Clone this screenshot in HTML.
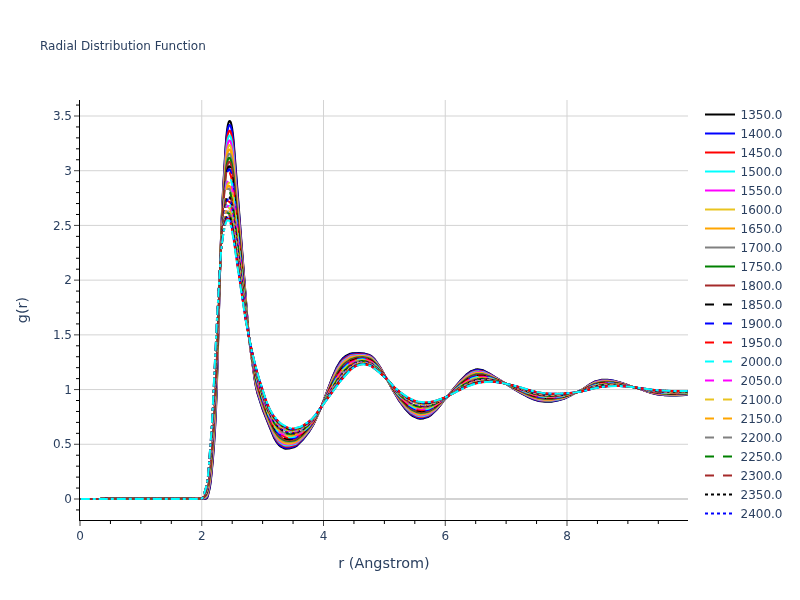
<!DOCTYPE html>
<html lang="en">
<head>
<meta charset="utf-8">
<title>Radial Distribution Function</title>
<style>
html,body{margin:0;padding:0;background:#fff;}
body{width:800px;height:600px;overflow:hidden;}
svg{display:block;will-change:transform;}
svg text{font-family:"DejaVu Sans","Liberation Sans",sans-serif;fill:#2a3f5f;font-size:12px;white-space:pre;}
.grid line{stroke:#d3d3d3;stroke-width:1;}
.ticks line{stroke:#444;stroke-width:1;}
.ticks line.mn{stroke:#000;}
.traces path{fill:none;stroke-width:2;stroke-linejoin:round;}
</style>
</head>
<body>
<svg width="800" height="600" viewBox="0 0 800 600">
<rect x="0" y="0" width="800" height="600" fill="#ffffff"/>
<g class="grid">
<line x1="201.75" x2="201.75" y1="100" y2="520"/>
<line x1="323.50" x2="323.50" y1="100" y2="520"/>
<line x1="445.25" x2="445.25" y1="100" y2="520"/>
<line x1="567.00" x2="567.00" y1="100" y2="520"/>
<line x1="80" x2="688" y1="444.28" y2="444.28"/>
<line x1="80" x2="688" y1="389.57" y2="389.57"/>
<line x1="80" x2="688" y1="334.86" y2="334.86"/>
<line x1="80" x2="688" y1="280.14" y2="280.14"/>
<line x1="80" x2="688" y1="225.42" y2="225.42"/>
<line x1="80" x2="688" y1="170.71" y2="170.71"/>
<line x1="80" x2="688" y1="116.00" y2="116.00"/>
</g>
<line x1="80" x2="688" y1="499.00" y2="499.00" stroke="#d3d3d3" stroke-width="2"/>
<clipPath id="plotclip"><rect x="80" y="100" width="608" height="420"/></clipPath>
<g class="traces" clip-path="url(#plotclip)">
<path d="M80.80,499.00L87.05,499.00L93.30,499.00L99.55,499.00L105.80,498.27L112.05,498.25L118.30,498.25L124.55,498.25L130.55,498.25L136.80,498.25L143.05,498.25L149.30,498.25L155.55,498.25L161.80,498.25L168.05,498.25L174.30,498.25L180.55,498.25L186.80,498.25L193.05,498.25L199.30,498.25L202.05,498.26L205.05,498.75L205.80,498.71L206.05,498.65L206.55,498.34L206.80,498.12L207.05,497.80L207.30,497.36L207.80,496.03L209.55,489.06L210.05,486.47L210.80,481.18L212.80,461.00L214.30,441.39L215.30,424.79L216.05,408.64L217.30,372.60L220.80,244.08L221.80,215.94L223.05,189.58L225.55,147.10L226.30,137.14L227.05,130.12L227.55,126.76L228.05,124.31L228.55,122.57L228.80,121.96L229.05,121.50L229.30,121.18L229.55,121.01L229.80,121.00L230.05,121.14L230.30,121.42L230.55,121.85L231.05,123.21L231.55,125.25L232.05,127.93L232.80,133.20L233.55,140.05L236.55,178.37L242.80,259.19L248.30,329.87L250.05,346.56L254.55,378.99L256.05,387.48L257.55,393.80L262.80,409.98L269.05,425.71L274.30,438.24L276.80,442.46L278.80,444.99L280.30,446.28L283.80,448.19L285.55,448.70L289.05,448.58L294.80,446.98L296.30,446.18L302.55,440.08L308.80,432.15L313.80,423.93L319.80,410.58L326.05,394.08L332.30,377.45L336.80,367.25L340.05,361.72L342.80,358.33L345.30,356.26L350.30,353.71L352.30,353.29L358.55,353.11L364.80,353.62L369.55,355.02L371.05,355.82L374.55,359.08L379.80,366.47L386.05,377.72L392.30,389.27L398.55,399.83L404.80,408.52L410.55,414.47L412.80,416.08L417.80,418.33L420.05,418.77L423.55,418.41L428.55,416.74L431.30,414.89L436.55,409.89L441.05,404.30L444.05,400.05L447.80,396.42L454.05,388.20L460.30,380.77L466.30,374.58L471.05,371.15L475.30,369.58L477.55,369.31L483.30,370.35L489.55,373.57L495.80,377.50L502.05,381.34L508.30,385.35L514.55,389.46L520.80,393.11L527.05,396.47L533.30,399.30L538.80,401.06L545.05,401.67L551.30,401.67L557.55,400.59L563.80,398.79L570.05,395.85L576.30,392.36L582.55,389.42L588.80,384.94L595.05,381.42L601.30,379.87L607.55,379.75L613.80,380.63L620.05,382.42L626.30,384.55L632.55,386.87L638.80,388.55L645.05,390.82L651.30,392.97L657.55,394.45L663.80,395.13L670.05,395.47L676.30,395.43L682.55,395.16L687.55,394.68" stroke="#000000"/>
<path d="M80.80,499.00L87.05,499.00L93.30,499.00L99.55,499.00L105.80,498.30L112.05,498.28L118.30,498.28L124.55,498.28L130.55,498.28L136.80,498.28L143.05,498.28L149.30,498.28L155.55,498.28L161.80,498.28L168.05,498.28L174.30,498.28L180.55,498.28L186.80,498.28L193.05,498.28L199.30,498.28L202.05,498.26L204.80,498.45L205.80,498.29L206.05,498.19L206.55,497.80L207.05,497.18L207.30,496.69L207.80,495.28L209.55,487.77L210.30,483.38L211.30,475.01L213.05,455.83L214.55,434.78L215.55,416.90L216.55,392.73L219.05,308.32L220.80,244.54L221.80,217.10L223.05,191.44L225.55,150.16L226.30,140.52L227.05,133.74L227.55,130.49L228.05,128.14L228.55,126.48L228.80,125.89L229.05,125.46L229.30,125.18L229.55,125.03L229.80,125.03L230.05,125.20L230.30,125.50L230.55,125.95L231.05,127.33L231.55,129.38L232.30,133.65L233.05,139.32L233.80,146.77L236.30,178.88L242.55,257.70L248.30,330.05L250.05,346.42L254.55,378.33L256.05,386.71L257.55,392.99L263.05,409.87L269.30,425.61L274.30,437.37L276.80,441.54L278.80,444.06L280.30,445.35L283.80,447.28L285.55,447.81L289.05,447.76L294.80,446.23L296.30,445.45L302.55,439.51L308.80,431.73L313.80,423.65L320.05,409.89L326.30,393.70L332.55,377.42L337.05,367.53L340.30,362.16L343.05,358.88L346.05,356.55L350.55,354.28L356.80,353.61L363.05,353.83L367.55,354.70L370.30,355.79L372.05,357.01L375.30,360.31L380.55,367.96L386.80,379.12L393.05,390.42L399.30,400.62L405.55,408.86L410.80,414.05L416.30,417.12L419.05,417.97L421.55,418.08L427.80,416.47L429.80,415.46L435.55,410.57L440.80,404.43L444.05,399.96L447.80,396.41L454.05,388.39L460.30,381.13L466.30,375.08L471.05,371.71L475.30,370.14L477.55,369.87L483.30,370.82L489.55,373.89L495.80,377.69L502.05,381.41L508.30,385.31L514.55,389.31L520.80,392.88L527.05,396.19L533.30,398.98L539.05,400.75L545.30,401.35L551.55,401.33L557.80,400.26L564.05,398.48L570.30,395.59L576.55,392.24L582.55,389.49L588.80,385.13L595.05,381.69L601.30,380.16L607.55,380.02L613.80,380.85L620.05,382.56L626.30,384.63L632.55,386.88L638.80,388.53L645.05,390.73L651.30,392.83L657.55,394.28L663.80,394.95L670.05,395.29L676.30,395.25L682.55,394.99L687.55,394.53" stroke="#0000ff"/>
<path d="M80.80,499.00L87.05,499.00L93.30,499.00L99.55,499.00L105.80,498.34L112.05,498.32L118.30,498.32L124.55,498.32L130.55,498.32L136.80,498.32L143.05,498.32L149.30,498.32L155.55,498.32L161.80,498.32L168.05,498.32L174.30,498.32L180.55,498.32L186.80,498.32L193.05,498.32L199.30,498.32L204.05,498.21L205.55,497.81L206.05,497.54L206.55,497.05L207.05,496.32L207.55,495.07L208.30,492.18L209.80,484.56L210.55,479.33L211.80,467.39L213.55,445.96L215.05,422.37L216.05,401.64L217.55,358.88L220.80,245.17L221.80,218.72L223.05,194.04L225.55,154.46L226.30,145.26L227.05,138.81L227.55,135.73L228.05,133.51L228.55,131.95L228.80,131.41L229.05,131.02L229.30,130.76L229.55,130.65L229.80,130.69L230.05,130.88L230.30,131.21L230.55,131.68L231.05,133.10L231.55,135.16L232.30,139.40L233.05,145.00L233.80,152.30L236.30,183.54L242.55,260.20L248.30,330.31L250.30,348.18L254.55,377.41L256.05,385.64L257.55,391.86L263.55,410.11L269.80,425.83L274.30,436.16L277.05,440.61L279.05,443.01L282.30,445.27L284.80,446.37L286.80,446.70L291.55,446.16L295.30,444.98L297.30,443.71L303.55,437.63L309.80,429.75L314.55,421.87L320.80,407.98L327.05,392.22L333.30,376.49L337.55,367.67L340.55,362.94L343.30,359.76L346.80,357.14L350.55,355.19L356.80,354.32L363.05,354.44L367.55,355.30L370.30,356.37L372.05,357.58L375.30,360.83L380.55,368.30L386.80,379.11L393.05,390.16L399.30,400.08L405.55,408.11L410.80,413.16L416.30,416.19L419.30,417.07L422.30,417.08L428.05,415.55L430.30,414.35L435.80,409.75L441.05,403.78L444.05,399.83L447.80,396.40L454.05,388.65L460.30,381.64L466.30,375.77L471.05,372.49L475.30,370.94L477.80,370.65L483.55,371.55L489.80,374.48L496.05,378.09L502.30,381.62L508.55,385.43L514.80,389.25L521.05,392.70L527.30,395.91L533.55,398.61L539.05,400.26L545.30,400.88L551.55,400.88L557.80,399.88L564.05,398.19L570.30,395.43L576.55,392.25L582.80,389.45L589.05,385.25L595.30,381.97L601.55,380.52L607.80,380.40L614.05,381.20L620.30,382.84L626.55,384.82L632.80,386.98L639.05,388.56L645.30,390.70L651.55,392.71L657.80,394.08L664.05,394.71L670.30,395.04L676.55,395.00L682.80,394.74L687.55,394.33" stroke="#ff0000"/>
<path d="M80.80,499.00L87.05,499.00L93.30,499.00L99.55,499.00L105.80,498.38L112.05,498.36L118.30,498.36L124.55,498.36L130.55,498.36L136.80,498.36L143.05,498.36L149.30,498.36L155.55,498.36L161.80,498.36L168.05,498.36L174.30,498.36L180.55,498.36L186.80,498.36L193.05,498.36L199.30,498.35L203.30,498.20L205.05,497.61L205.80,497.18L206.30,496.72L206.80,496.04L207.30,494.98L207.80,493.31L209.55,484.44L210.30,479.42L211.30,470.49L213.05,449.96L214.80,423.30L215.80,403.87L217.05,371.41L220.80,245.72L221.80,220.11L223.05,196.26L225.55,158.14L226.30,149.33L226.80,144.96L227.30,141.57L227.80,139.07L228.30,137.29L228.55,136.64L228.80,136.13L229.05,135.78L229.30,135.55L229.55,135.47L229.80,135.53L230.05,135.74L230.30,136.10L230.55,136.59L231.05,138.05L231.55,140.12L232.30,144.34L233.05,149.87L233.80,157.04L236.55,190.18L242.80,265.40L248.30,330.53L250.30,347.97L254.55,376.62L256.30,385.88L260.55,400.65L266.80,417.48L273.05,432.47L275.05,436.50L278.05,440.79L279.55,442.35L283.30,444.69L285.55,445.49L289.05,445.61L294.55,444.38L296.30,443.56L302.55,438.03L308.80,430.63L313.55,423.38L319.80,410.34L326.05,395.02L332.30,379.58L337.30,369.04L340.55,363.90L343.30,360.72L349.30,356.58L351.30,355.70L357.55,354.88L363.80,355.03L368.55,356.15L370.55,357.01L372.80,358.73L376.05,362.17L382.30,371.46L388.55,382.13L394.80,392.81L401.05,402.00L407.30,409.25L411.55,412.97L416.80,415.59L419.55,416.30L423.05,416.19L428.30,414.74L431.05,413.17L436.55,408.53L441.55,402.87L444.30,399.46L447.55,396.64L453.80,389.17L460.05,382.33L466.30,376.37L471.30,373.03L475.80,371.51L479.05,371.37L484.05,372.26L490.30,375.12L496.55,378.58L502.80,381.94L509.05,385.71L515.30,389.34L521.55,392.69L527.80,395.82L534.05,398.40L539.55,399.92L545.80,400.51L552.05,400.45L558.30,399.46L564.55,397.76L570.80,395.04L577.05,392.04L582.80,389.54L589.05,385.48L595.30,382.30L601.55,380.87L607.80,380.71L614.05,381.46L620.30,383.01L626.55,384.90L632.80,386.99L639.05,388.53L645.30,390.60L651.55,392.54L657.80,393.87L664.05,394.49L670.30,394.82L676.55,394.79L682.80,394.54L687.55,394.15" stroke="#00ffff"/>
<path d="M80.80,499.00L87.05,499.00L93.30,499.00L99.55,499.00L105.80,498.42L112.05,498.40L118.30,498.40L124.55,498.40L130.55,498.40L136.80,498.40L143.05,498.40L149.30,498.40L155.55,498.40L161.80,498.40L168.05,498.40L174.30,498.40L180.55,498.40L186.80,498.40L193.05,498.40L199.30,498.38L202.80,498.21L203.80,497.90L205.30,497.04L206.05,496.41L206.55,495.74L207.05,494.81L207.55,493.34L208.30,490.04L209.80,481.20L210.80,473.21L212.30,456.96L214.30,428.18L215.55,405.52L216.80,375.27L220.80,246.28L221.80,221.57L223.05,198.59L225.55,161.98L226.30,153.57L226.80,149.41L227.30,146.18L227.80,143.82L228.30,142.14L228.55,141.53L228.80,141.07L229.05,140.74L229.30,140.55L229.55,140.50L229.80,140.59L230.05,140.83L230.30,141.21L230.80,142.39L231.30,144.19L232.05,147.94L233.05,154.95L233.80,161.99L240.05,234.02L246.30,308.51L248.55,333.21L251.05,353.14L254.80,377.23L256.30,384.91L260.80,400.39L267.05,417.23L273.30,431.98L275.05,435.39L278.05,439.63L279.55,441.18L283.30,443.54L285.55,444.37L289.05,444.58L294.55,443.43L296.30,442.65L302.55,437.31L308.80,430.10L313.30,423.45L319.55,410.83L325.80,395.94L332.05,380.91L337.30,370.00L340.55,364.91L343.30,361.72L349.30,357.43L351.30,356.50L357.55,355.49L363.80,355.57L368.80,356.77L370.80,357.68L374.30,360.67L379.80,367.74L386.05,377.83L392.30,388.44L398.55,398.10L404.80,405.97L410.80,411.62L416.30,414.56L419.30,415.41L422.55,415.44L428.30,414.01L431.55,412.16L437.30,407.31L443.55,400.16L447.80,396.37L454.05,389.12L460.30,382.53L466.55,376.80L471.30,373.73L475.80,372.22L479.30,372.06L484.05,372.83L490.30,375.51L496.55,378.79L502.80,382.01L509.05,385.64L515.30,389.14L521.55,392.40L527.80,395.45L534.05,397.99L539.55,399.49L545.80,400.10L552.05,400.05L558.30,399.12L564.55,397.51L570.80,394.92L577.05,392.05L583.05,389.50L589.30,385.59L595.55,382.55L601.80,381.19L608.05,381.05L614.30,381.78L620.55,383.25L626.80,385.07L633.05,387.07L639.30,388.57L645.55,390.57L651.80,392.42L658.05,393.69L664.30,394.28L670.55,394.60L676.80,394.56L683.05,394.32L687.55,393.97" stroke="#ff00ff"/>
<path d="M80.80,499.00L87.05,499.00L93.30,499.00L99.55,499.00L105.80,498.45L112.05,498.43L118.30,498.43L124.55,498.43L130.55,498.43L136.80,498.43L143.05,498.43L149.30,498.43L155.55,498.43L161.80,498.43L168.05,498.43L174.30,498.43L180.55,498.43L186.80,498.43L193.05,498.43L199.30,498.41L202.80,498.16L203.55,497.88L205.30,496.64L206.05,495.89L206.80,494.67L207.30,493.41L207.80,491.52L209.30,483.02L210.30,475.79L211.55,463.65L213.05,444.58L215.05,411.97L216.30,385.23L220.80,246.79L221.80,222.87L223.05,200.68L225.55,165.43L226.30,157.38L226.80,153.41L227.30,150.33L227.80,148.08L228.30,146.50L228.55,145.93L228.80,145.50L229.05,145.21L229.30,145.05L229.55,145.02L229.80,145.14L230.05,145.40L230.30,145.80L230.80,147.02L231.30,148.84L232.05,152.58L233.05,159.52L233.80,166.44L240.05,236.80L246.30,309.36L248.55,333.35L251.30,354.53L255.05,377.84L256.55,385.12L262.55,404.56L268.80,420.79L274.05,432.58L276.80,436.99L279.05,439.67L282.30,441.99L285.05,443.22L288.05,443.66L292.55,443.14L295.55,442.21L298.30,440.43L304.55,434.59L310.55,427.33L315.05,420.04L321.30,406.77L327.55,392.20L333.80,377.71L338.30,369.16L341.55,364.55L344.30,361.70L350.05,357.77L352.05,356.98L358.30,355.99L364.55,356.14L369.55,357.54L371.30,358.47L375.05,361.88L380.80,369.54L387.05,379.48L393.30,389.89L399.55,399.05L405.80,406.43L411.05,411.09L416.55,413.91L419.55,414.69L423.30,414.61L428.55,413.25L434.55,409.36L440.80,403.30L444.30,399.27L447.80,396.36L454.05,389.34L460.30,382.93L466.55,377.36L471.55,374.24L476.05,372.80L482.30,373.01L488.55,375.08L494.80,378.10L501.05,381.25L507.30,384.45L513.55,388.06L519.80,391.25L526.05,394.30L532.30,397.01L538.55,398.91L544.80,399.65L551.05,399.77L557.30,398.98L563.55,397.58L569.80,395.26L576.05,392.46L582.30,389.98L588.55,386.23L594.80,383.13L601.05,381.63L607.30,381.30L613.55,381.89L619.80,383.22L626.05,384.93L632.30,386.86L638.55,388.35L644.80,390.25L651.05,392.08L657.30,393.37L663.55,394.02L669.80,394.37L676.05,394.38L682.30,394.18L687.55,393.80" stroke="#e9c420"/>
<path d="M80.80,499.00L87.05,499.00L93.30,499.00L99.55,499.00L105.80,498.48L112.05,498.46L118.30,498.46L124.55,498.46L130.55,498.46L136.80,498.46L143.05,498.46L149.30,498.46L155.55,498.46L161.80,498.46L168.05,498.46L174.30,498.46L180.55,498.46L186.80,498.46L193.05,498.46L199.30,498.44L202.55,498.19L203.30,497.91L204.80,496.75L205.80,495.71L206.30,494.99L206.80,494.04L207.30,492.69L207.80,490.69L209.05,483.40L210.05,476.21L211.30,464.46L212.80,445.74L215.05,408.80L216.30,382.10L220.80,247.29L221.80,224.14L223.05,202.71L225.55,168.78L226.30,161.09L226.80,157.29L227.30,154.36L227.80,152.22L228.30,150.73L228.55,150.20L228.80,149.81L229.05,149.55L229.30,149.41L229.55,149.41L229.80,149.55L230.05,149.83L230.30,150.25L230.80,151.51L231.30,153.35L232.05,157.09L233.05,163.95L234.05,173.40L240.30,242.41L246.55,312.90L248.55,333.49L251.55,355.84L255.05,377.07L256.55,384.26L262.80,404.40L269.05,420.62L274.05,431.64L276.80,435.99L279.05,438.65L282.30,440.99L285.30,442.32L288.80,442.75L294.30,441.84L296.30,441.03L302.55,436.04L308.80,429.17L313.05,423.21L319.30,411.20L325.55,397.06L331.80,382.76L337.30,371.69L340.80,366.36L343.80,363.01L349.80,358.64L351.80,357.73L358.05,356.54L364.30,356.57L369.55,358.00L371.30,358.92L375.30,362.56L381.55,370.93L387.80,380.66L394.05,390.86L400.30,399.58L406.55,406.56L411.55,410.74L416.80,413.27L419.80,413.98L424.05,413.79L428.55,412.61L434.55,408.88L440.80,403.05L444.30,399.18L447.80,396.35L454.05,389.55L460.30,383.33L466.55,377.91L471.55,374.86L476.05,373.42L482.30,373.54L488.55,375.46L494.80,378.32L501.05,381.34L507.30,384.43L513.55,387.92L519.80,391.01L526.05,394.00L532.30,396.67L538.55,398.53L544.80,399.28L551.05,399.42L557.30,398.67L563.55,397.34L569.80,395.12L576.05,392.46L582.30,390.06L588.55,386.43L594.80,383.43L601.05,381.94L607.30,381.59L613.55,382.13L619.80,383.39L626.05,385.02L632.30,386.87L638.55,388.33L644.80,390.16L651.05,391.93L657.30,393.19L663.55,393.82L669.80,394.17L676.05,394.18L682.30,393.99L687.55,393.64" stroke="#ffa500"/>
<path d="M80.80,499.00L87.05,499.00L93.30,499.00L99.55,499.00L105.80,498.51L112.05,498.49L118.30,498.49L124.55,498.49L130.55,498.49L136.80,498.49L143.05,498.49L149.30,498.49L155.55,498.49L161.80,498.49L168.05,498.49L174.30,498.49L180.55,498.49L186.80,498.49L193.05,498.49L199.30,498.47L202.30,498.22L203.05,497.97L203.80,497.44L205.55,495.58L206.05,494.89L206.80,493.43L207.30,491.99L207.80,489.89L208.80,483.95L210.05,474.67L211.30,462.62L212.55,447.04L214.80,410.37L216.05,384.94L218.80,308.50L220.80,247.77L221.80,225.37L223.05,204.68L225.55,172.03L226.30,164.67L226.80,161.05L227.30,158.26L227.80,156.23L228.30,154.83L228.55,154.34L228.80,153.98L229.05,153.75L229.30,153.64L229.55,153.66L229.80,153.82L230.05,154.13L230.55,155.14L231.05,156.73L231.80,160.09L232.80,166.36L233.55,172.52L239.80,239.28L246.05,308.33L248.55,333.62L253.55,367.87L255.80,380.08L257.55,387.25L263.80,406.37L270.05,422.19L274.30,431.20L277.55,435.98L279.55,438.13L283.05,440.43L285.80,441.51L289.55,441.87L294.55,440.97L296.55,440.12L302.55,435.44L308.80,428.72L313.05,422.90L319.30,411.11L325.55,397.31L331.80,383.36L337.55,372.08L341.05,366.90L344.30,363.40L350.05,359.20L356.05,357.33L362.30,356.88L366.55,357.46L370.30,358.77L372.30,360.11L376.05,363.78L382.30,372.26L388.55,381.80L394.80,391.75L401.05,400.04L407.30,406.65L411.80,410.22L417.05,412.65L420.30,413.32L425.05,412.93L429.05,411.80L435.05,408.04L441.05,402.54L444.30,399.09L447.80,396.34L454.05,389.75L460.30,383.71L466.55,378.44L471.55,375.46L476.05,374.02L482.30,374.06L488.55,375.83L494.80,378.54L501.05,381.42L507.30,384.40L513.55,387.78L519.80,390.79L526.05,393.71L532.30,396.33L538.55,398.16L544.80,398.92L551.05,399.07L557.30,398.38L563.55,397.11L569.80,394.99L576.05,392.45L582.30,390.13L588.55,386.63L594.80,383.71L601.05,382.25L607.30,381.87L613.55,382.36L619.80,383.54L626.05,385.10L632.30,386.88L638.55,388.31L644.80,390.08L651.05,391.79L657.30,393.00L663.55,393.62L669.80,393.97L676.05,393.99L682.30,393.82L687.55,393.48" stroke="#808080"/>
<path d="M80.80,499.00L87.05,499.00L93.30,499.00L99.55,499.00L105.80,498.54L112.05,498.52L118.30,498.52L124.55,498.52L130.55,498.52L136.80,498.52L143.05,498.52L149.30,498.52L155.55,498.52L161.80,498.52L168.05,498.52L174.30,498.52L180.55,498.52L186.80,498.52L193.05,498.52L199.30,498.50L202.30,498.20L202.80,498.04L203.30,497.74L205.05,495.85L206.05,494.42L206.80,492.84L207.30,491.31L207.80,489.12L208.80,482.90L210.30,470.95L211.55,457.98L213.05,437.41L215.30,397.87L216.80,363.75L220.80,248.23L221.80,226.56L223.05,206.58L225.55,175.17L226.30,168.15L226.80,164.69L227.30,162.04L227.80,160.12L228.30,158.80L228.55,158.34L228.80,158.02L229.05,157.82L229.30,157.73L229.55,157.78L229.80,157.96L230.05,158.29L230.55,159.34L231.05,160.95L231.80,164.32L232.80,170.55L233.55,176.62L239.80,241.88L246.05,309.17L248.55,333.74L253.55,367.30L255.80,379.31L257.80,387.31L264.05,406.28L270.30,421.99L274.30,430.31L277.55,435.04L279.55,437.17L283.05,439.49L285.80,440.60L289.55,441.03L294.55,440.20L296.55,439.38L302.55,434.85L308.80,428.29L313.05,422.60L319.30,411.02L325.55,397.55L331.80,383.94L337.80,372.45L341.30,367.41L345.05,363.56L350.30,359.73L356.30,357.81L362.55,357.34L366.80,357.96L370.30,359.20L372.30,360.52L376.30,364.43L382.55,372.81L388.80,382.12L395.05,391.87L401.30,399.88L407.55,406.28L411.80,409.57L417.05,411.97L420.30,412.63L425.05,412.29L429.05,411.20L435.05,407.61L441.30,402.06L444.55,398.79L447.80,396.33L454.05,389.95L460.30,384.09L466.55,378.95L471.80,375.92L476.30,374.55L482.55,374.59L488.80,376.28L495.05,378.85L501.30,381.61L507.55,384.52L513.80,387.76L520.05,390.68L526.30,393.54L532.55,396.08L538.80,397.85L545.05,398.60L551.30,398.73L557.55,398.06L563.80,396.82L570.05,394.77L576.30,392.36L582.55,390.09L588.80,386.69L595.05,383.90L601.30,382.50L607.55,382.15L613.80,382.62L620.05,383.74L626.30,385.25L632.55,386.97L638.80,388.34L645.05,390.06L651.30,391.71L657.55,392.86L663.80,393.45L670.05,393.79L676.30,393.81L682.55,393.63L687.55,393.33" stroke="#008000"/>
<path d="M80.80,499.00L87.05,499.00L93.30,499.00L99.55,499.00L105.80,498.57L112.05,498.55L118.30,498.55L124.55,498.55L130.55,498.55L136.80,498.55L143.05,498.55L149.30,498.55L155.55,498.55L161.80,498.55L168.05,498.55L174.30,498.55L180.55,498.55L186.80,498.55L193.05,498.55L199.30,498.53L202.30,498.19L202.80,498.00L203.30,497.66L205.05,495.53L206.05,493.96L206.80,492.27L207.30,490.65L207.80,488.37L208.55,483.71L210.05,471.74L211.30,459.11L212.55,442.87L215.05,399.85L216.55,367.31L220.80,248.68L221.80,227.71L223.05,208.43L225.55,178.22L226.30,171.51L226.80,168.22L227.30,165.70L227.80,163.88L228.30,162.64L228.55,162.22L228.80,161.93L229.05,161.76L229.30,161.70L229.55,161.77L229.80,161.97L230.05,162.32L230.55,163.41L231.05,165.05L231.80,168.43L232.80,174.60L233.80,182.92L240.05,247.09L246.30,312.50L248.55,333.87L253.55,366.75L255.80,378.56L257.80,386.51L264.05,405.53L270.30,421.25L274.30,429.45L277.55,434.12L279.55,436.25L283.05,438.58L286.05,439.79L289.80,440.22L294.55,439.45L296.80,438.53L302.55,434.28L308.80,427.87L312.80,422.68L319.05,411.43L325.30,398.32L331.55,385.03L337.80,373.22L341.55,367.91L346.55,363.08L350.55,360.24L356.55,358.27L362.80,357.78L367.05,358.45L370.30,359.62L372.30,360.92L376.55,365.07L382.80,373.33L389.05,382.42L395.30,391.97L401.55,399.73L407.80,405.92L412.05,409.08L417.05,411.31L420.55,411.98L425.80,411.53L429.30,410.53L435.30,407.01L441.55,401.60L444.55,398.72L447.80,396.32L454.05,390.14L460.30,384.45L466.55,379.45L471.80,376.48L476.30,375.11L482.55,375.08L488.80,376.62L495.05,379.05L501.30,381.68L507.55,384.50L513.80,387.62L520.05,390.47L526.30,393.27L532.55,395.77L538.80,397.50L545.05,398.27L551.30,398.41L557.55,397.78L563.80,396.61L570.05,394.65L576.30,392.36L582.55,390.16L588.80,386.88L595.05,384.17L601.30,382.79L607.55,382.41L613.80,382.83L620.05,383.89L626.30,385.32L632.55,386.98L638.80,388.32L645.05,389.98L651.30,391.57L657.55,392.69L663.80,393.27L670.05,393.61L676.30,393.63L682.55,393.47L687.55,393.19" stroke="#a52a2a"/>
<path d="M80.80,499.00L87.05,499.00L93.30,499.00L99.55,499.00L105.80,498.60L112.05,498.59L118.30,498.59L124.55,498.59L130.55,498.59L136.80,498.59L143.05,498.59L149.30,498.59L155.55,498.59L161.80,498.59L168.05,498.59L174.30,498.59L180.55,498.59L186.80,498.59L193.05,498.59L199.30,498.56L201.80,498.30L202.55,498.09L203.05,497.78L203.80,497.00L205.80,493.91L206.55,492.28L207.05,490.83L207.55,488.79L208.30,484.41L210.05,470.07L211.55,454.16L212.80,436.61L215.55,386.48L218.80,304.38L220.55,255.27L221.55,233.53L222.80,213.86L225.30,184.27L226.05,177.29L226.55,173.75L227.05,171.03L227.55,169.00L228.05,167.60L228.30,167.09L228.55,166.72L228.80,166.46L229.05,166.32L229.30,166.29L229.55,166.38L229.80,166.62L230.05,166.99L230.55,168.12L231.05,169.79L231.80,173.18L232.80,179.28L233.80,187.46L240.05,249.93L246.30,313.37L248.55,334.01L253.55,366.10L256.05,378.82L262.30,399.61L268.55,416.39L273.80,427.56L276.80,432.12L279.30,434.95L282.55,437.26L285.80,438.70L289.55,439.29L294.30,438.66L296.55,437.83L302.05,434.05L308.30,427.93L312.55,422.69L318.80,411.80L325.05,399.09L331.30,386.19L337.55,374.51L341.30,369.14L346.80,363.74L350.80,360.84L356.55,358.86L362.80,358.28L367.05,358.94L370.30,360.10L372.30,361.39L376.80,365.75L383.05,373.85L389.30,382.70L395.55,392.01L401.80,399.48L408.05,405.46L412.30,408.48L417.30,410.61L421.05,411.23L427.30,410.49L430.55,409.32L436.55,405.61L442.80,400.16L448.30,395.85L454.55,389.90L460.80,384.45L467.05,379.70L472.30,376.93L476.80,375.68L483.05,375.68L489.30,377.17L495.55,379.47L501.80,381.96L508.05,384.73L514.30,387.68L520.55,390.44L526.80,393.16L533.05,395.56L539.30,397.19L545.55,397.92L551.80,398.02L558.05,397.40L564.30,396.25L570.55,394.34L576.80,392.20L583.05,390.02L589.30,386.86L595.55,384.32L601.80,383.05L608.05,382.72L614.30,383.14L620.55,384.15L626.80,385.52L633.05,387.11L639.30,388.40L645.55,390.01L651.80,391.51L658.05,392.56L664.30,393.09L670.55,393.41L676.80,393.42L683.05,393.26L687.55,393.02" stroke="#000000" stroke-dasharray="9,9"/>
<path d="M80.80,499.00L87.05,499.00L93.30,499.00L99.55,499.00L105.80,498.62L112.05,498.61L118.30,498.61L124.55,498.61L130.55,498.61L136.80,498.61L143.05,498.61L149.30,498.61L155.55,498.61L161.80,498.61L168.05,498.61L174.30,498.61L180.55,498.61L186.80,498.61L193.05,498.61L199.30,498.58L201.80,498.31L202.55,498.07L203.05,497.74L203.80,496.89L205.80,493.60L206.55,491.88L207.05,490.37L207.55,488.27L208.30,483.76L210.05,469.00L211.55,452.84L212.80,435.02L215.55,384.29L220.80,249.54L221.80,229.90L223.05,211.94L225.30,186.45L226.05,179.72L226.55,176.32L227.05,173.71L227.55,171.76L228.05,170.43L228.30,169.95L228.55,169.60L228.80,169.37L229.05,169.25L229.30,169.24L229.55,169.35L229.80,169.60L230.05,169.99L230.55,171.14L231.05,172.83L231.80,176.23L232.80,182.30L233.80,190.38L240.05,251.75L246.30,313.92L248.55,334.10L253.80,367.07L256.05,378.25L262.30,399.02L268.55,415.87L273.80,426.93L277.05,431.76L279.30,434.26L282.55,436.59L285.80,438.05L289.55,438.68L294.30,438.10L296.55,437.29L302.05,433.62L308.30,427.61L312.55,422.46L318.80,411.72L325.05,399.25L331.30,386.59L337.55,375.08L341.55,369.43L347.80,363.47L351.05,361.18L356.80,359.18L362.80,358.60L367.05,359.26L370.55,360.53L374.05,363.20L380.30,370.28L386.55,378.68L392.80,387.97L399.05,396.12L405.30,402.66L411.30,407.40L416.55,409.89L420.30,410.69L425.55,410.41L429.30,409.45L435.30,406.22L441.55,401.24L444.80,398.39L447.80,396.30L454.05,390.50L460.30,385.13L466.55,380.39L472.05,377.45L476.80,376.09L483.05,376.03L489.30,377.41L495.55,379.61L501.80,382.01L508.05,384.70L514.30,387.58L520.55,390.28L526.80,392.95L533.05,395.32L539.30,396.93L545.55,397.68L551.80,397.78L558.05,397.20L564.30,396.09L570.55,394.26L576.80,392.21L583.05,390.08L589.30,387.01L595.55,384.52L601.80,383.26L608.05,382.91L614.30,383.30L620.55,384.25L626.80,385.58L633.05,387.12L639.30,388.38L645.55,389.95L651.80,391.41L658.05,392.43L664.30,392.96L670.55,393.28L676.80,393.29L683.05,393.14L687.55,392.91" stroke="#0000ff" stroke-dasharray="9,9"/>
<path d="M80.80,499.00L87.05,499.00L93.30,499.00L99.55,499.00L105.80,498.65L112.05,498.64L118.30,498.64L124.55,498.64L130.55,498.64L136.80,498.64L143.05,498.64L149.30,498.64L155.55,498.64L161.80,498.64L168.05,498.64L174.30,498.64L180.55,498.64L186.80,498.64L193.05,498.64L199.30,498.60L201.80,498.31L202.55,498.05L203.05,497.68L203.80,496.77L205.80,493.21L206.55,491.40L207.05,489.82L207.55,487.63L208.30,482.98L210.05,467.69L211.55,451.24L212.80,433.08L215.80,376.37L220.80,249.95L221.80,230.94L223.05,213.60L225.30,189.09L226.05,182.67L226.55,179.43L227.05,176.95L227.55,175.11L228.05,173.86L228.30,173.42L228.55,173.10L228.80,172.90L229.05,172.80L229.30,172.82L229.55,172.95L229.80,173.22L230.30,174.16L230.80,175.61L231.55,178.70L232.55,184.29L233.55,191.71L239.80,251.46L246.05,312.29L248.55,334.22L253.80,366.55L256.30,378.62L262.55,399.04L268.80,415.81L273.80,426.17L277.05,430.94L279.55,433.65L283.05,436.04L286.30,437.40L289.80,437.96L294.30,437.42L296.80,436.52L302.05,433.10L308.30,427.22L312.30,422.53L318.55,412.09L324.80,399.93L331.05,387.57L337.30,376.17L341.30,370.45L347.55,364.32L350.80,361.90L356.55,359.69L362.55,358.99L366.55,359.51L370.30,360.78L372.30,362.05L377.05,366.58L383.30,374.41L389.55,382.92L395.80,391.91L402.05,399.00L408.30,404.70L412.80,407.69L417.55,409.59L421.80,410.16L428.05,409.32L434.30,406.46L440.55,401.93L444.80,398.33L448.05,396.08L454.30,390.45L460.55,385.26L466.80,380.68L472.30,377.86L476.80,376.59L483.05,376.46L489.30,377.71L495.55,379.78L501.80,382.07L508.05,384.67L514.30,387.45L520.55,390.08L526.80,392.70L533.05,395.03L539.30,396.61L545.55,397.38L551.80,397.50L558.05,396.95L564.30,395.91L570.55,394.16L576.80,392.21L583.05,390.15L589.30,387.19L595.55,384.77L601.80,383.51L608.05,383.14L614.30,383.49L620.55,384.38L626.80,385.64L633.05,387.12L639.30,388.36L645.55,389.87L651.80,391.28L658.05,392.27L664.30,392.79L670.55,393.11L676.80,393.13L683.05,392.99L687.55,392.78" stroke="#ff0000" stroke-dasharray="9,9"/>
<path d="M80.80,499.00L87.05,499.00L93.30,499.00L99.55,499.00L105.80,498.68L112.05,498.66L118.30,498.66L124.55,498.66L130.55,498.66L136.80,498.66L143.05,498.66L149.30,498.66L155.55,498.66L161.80,498.66L168.05,498.66L174.30,498.66L180.55,498.66L186.80,498.66L193.05,498.66L199.30,498.63L201.55,498.38L202.30,498.15L202.80,497.85L203.30,497.36L205.30,493.89L206.05,492.27L206.80,490.17L207.30,488.24L207.80,485.61L208.55,480.27L210.55,461.23L211.80,446.44L213.30,422.46L216.30,362.87L220.80,250.34L221.80,231.94L223.05,215.21L225.30,191.63L226.05,185.52L226.55,182.43L227.05,180.09L227.55,178.35L228.05,177.17L228.30,176.77L228.55,176.48L228.80,176.31L229.05,176.24L229.30,176.27L229.55,176.42L229.80,176.71L230.30,177.68L230.80,179.16L231.55,182.27L232.55,187.83L233.55,195.17L239.80,253.65L246.05,313.01L248.55,334.32L253.80,366.04L256.30,377.95L262.55,398.36L268.55,414.61L273.80,425.43L277.30,430.45L279.55,432.84L283.05,435.25L286.55,436.72L290.05,437.27L294.55,436.71L297.30,435.66L302.30,432.40L308.55,426.58L312.55,421.91L318.80,411.52L325.05,399.62L331.30,387.54L337.55,376.43L341.80,370.55L348.05,364.53L351.05,362.31L356.55,360.13L362.30,359.36L366.30,359.81L370.30,361.14L372.55,362.60L377.55,367.43L383.80,375.16L390.05,383.56L396.30,392.29L402.55,399.10L408.80,404.57L413.55,407.49L418.05,409.13L422.55,409.59L428.30,408.75L434.55,405.94L440.80,401.52L445.05,398.11L448.05,396.07L454.30,390.62L460.55,385.57L466.80,381.12L472.55,378.26L477.05,377.04L483.30,376.89L489.55,378.06L495.80,380.02L502.05,382.22L508.30,384.76L514.55,387.42L520.80,389.99L527.05,392.56L533.30,394.82L539.55,396.35L545.80,397.11L552.05,397.21L558.30,396.69L564.55,395.67L570.80,393.99L577.05,392.15L583.30,390.12L589.55,387.25L595.80,384.93L602.05,383.73L608.30,383.37L614.55,383.70L620.80,384.54L627.05,385.75L633.30,387.19L639.55,388.39L645.80,389.85L652.05,391.20L658.30,392.15L664.55,392.65L670.80,392.96L677.05,392.97L683.30,392.84L687.55,392.65" stroke="#00ffff" stroke-dasharray="9,9"/>
<path d="M80.80,499.00L87.05,499.00L93.30,499.00L99.55,499.00L105.80,498.70L112.05,498.69L118.30,498.69L124.55,498.69L130.55,498.69L136.80,498.69L143.05,498.69L149.30,498.69L155.55,498.69L161.80,498.69L168.05,498.69L174.30,498.69L180.55,498.69L186.80,498.69L193.05,498.69L199.30,498.65L201.55,498.39L202.30,498.14L202.80,497.82L203.30,497.29L205.30,493.59L206.30,491.22L207.05,488.77L207.55,486.43L208.30,481.50L210.30,462.61L211.80,444.91L213.30,420.49L216.55,354.85L220.80,250.72L221.80,232.91L223.05,216.76L225.30,194.09L226.05,188.26L226.55,185.33L227.05,183.10L227.55,181.46L228.05,180.37L228.30,180.00L228.55,179.74L228.80,179.59L229.05,179.54L229.30,179.60L229.55,179.77L229.80,180.08L230.30,181.08L230.80,182.59L231.55,185.72L232.55,191.24L233.55,198.50L239.80,255.76L246.05,313.70L248.80,336.23L254.05,366.84L256.55,378.31L262.80,398.44L268.30,413.43L273.55,424.28L276.80,429.07L279.30,431.84L282.55,434.21L286.30,435.91L289.80,436.59L294.30,436.14L297.05,435.19L301.80,432.30L308.05,426.72L312.30,421.98L318.55,411.88L324.80,400.26L331.05,388.47L337.30,377.47L341.80,371.22L348.05,365.12L351.05,362.84L356.55,360.55L362.30,359.73L366.05,360.11L370.30,361.49L372.55,362.93L378.05,368.26L384.30,375.87L390.55,384.20L396.80,392.64L403.05,399.19L409.30,404.43L415.05,407.61L419.55,408.85L424.80,408.90L429.30,407.96L435.55,404.99L441.80,400.53L448.05,396.07L454.30,390.79L460.55,385.88L466.80,381.54L472.80,378.64L477.30,377.47L483.55,377.30L489.80,378.39L496.05,380.25L502.30,382.35L508.55,384.84L514.80,387.39L521.05,389.90L527.30,392.43L533.55,394.62L539.80,396.10L546.05,396.85L552.30,396.94L558.55,396.44L564.80,395.45L571.05,393.84L577.30,392.09L583.55,390.09L589.80,387.32L596.05,385.10L602.30,383.93L608.55,383.58L614.80,383.89L621.05,384.69L627.30,385.85L633.55,387.24L639.80,388.41L646.05,389.83L652.30,391.13L658.55,392.03L664.80,392.51L671.05,392.82L677.30,392.82L683.55,392.69L687.55,392.53" stroke="#ff00ff" stroke-dasharray="9,9"/>
<path d="M80.80,499.00L87.05,499.00L93.30,499.00L99.55,499.00L105.80,498.72L112.05,498.71L118.30,498.71L124.55,498.71L130.55,498.71L136.80,498.71L143.05,498.71L149.30,498.71L155.55,498.71L161.80,498.71L168.05,498.71L174.30,498.71L180.55,498.71L186.80,498.71L193.05,498.71L199.30,498.67L201.55,498.39L202.30,498.13L202.80,497.79L203.30,497.22L205.30,493.31L206.30,490.82L207.05,488.27L207.55,485.87L208.30,480.80L210.55,458.64L211.80,443.43L213.30,418.60L217.05,341.18L220.55,256.32L221.55,237.64L222.80,221.03L225.30,196.45L226.05,190.90L226.55,188.12L227.05,186.01L227.55,184.47L228.05,183.44L228.30,183.10L228.55,182.88L228.80,182.75L229.05,182.73L229.30,182.80L229.55,182.99L229.80,183.32L230.30,184.35L230.80,185.89L231.80,190.26L232.80,196.16L233.80,203.81L240.05,260.13L246.30,316.49L248.80,336.29L254.05,366.35L256.55,377.68L262.80,397.80L268.05,412.26L273.30,423.16L275.80,427.05L279.05,430.85L282.30,433.33L286.30,435.20L289.80,435.94L294.05,435.59L297.05,434.62L301.80,431.83L308.05,426.37L312.30,421.73L318.55,411.78L324.80,400.42L331.05,388.89L337.30,378.08L342.05,371.58L348.30,365.47L351.30,363.20L356.55,360.96L362.30,360.08L366.05,360.45L370.30,361.83L372.55,363.25L378.80,369.36L385.05,376.85L391.30,385.19L397.55,393.24L403.80,399.50L410.05,404.45L415.80,407.37L420.30,408.41L425.80,408.27L430.05,407.25L436.30,404.20L442.55,399.79L448.80,395.46L455.05,390.36L461.30,385.63L467.55,381.53L473.80,378.77L479.05,377.74L485.30,377.83L491.55,379.10L497.80,380.94L504.05,382.97L510.30,385.55L516.55,387.93L522.80,390.43L529.05,392.88L535.30,394.85L541.55,396.06L547.80,396.68L554.05,396.60L560.30,396.02L566.55,394.92L572.80,393.29L579.05,391.64L585.30,389.43L591.55,386.80L597.80,384.92L604.05,383.96L610.30,383.83L616.55,384.23L622.80,385.09L629.05,386.26L635.30,387.58L641.55,388.77L647.80,390.13L654.05,391.29L660.30,392.05L666.55,392.47L672.80,392.70L679.05,392.66L685.30,392.50L687.55,392.41" stroke="#e9c420" stroke-dasharray="9,9"/>
<path d="M80.80,499.00L87.05,499.00L93.30,499.00L99.55,499.00L105.80,498.75L112.05,498.74L118.30,498.74L124.55,498.74L130.55,498.74L136.80,498.74L143.05,498.74L149.30,498.74L155.55,498.74L161.80,498.74L168.05,498.74L174.30,498.74L180.55,498.74L186.80,498.74L193.05,498.74L199.30,498.69L201.55,498.40L202.30,498.13L202.80,497.76L203.30,497.16L205.30,493.04L206.30,490.44L207.05,487.79L207.55,485.32L208.30,480.12L210.80,454.56L211.80,442.01L213.30,416.77L218.80,297.99L220.55,256.51L221.55,238.41L222.80,222.37L225.05,200.79L225.80,195.03L226.30,192.03L226.80,189.73L227.30,188.02L227.80,186.82L228.05,186.40L228.30,186.09L228.55,185.89L228.80,185.79L229.05,185.79L229.30,185.88L229.55,186.09L229.80,186.44L230.30,187.50L230.80,189.06L231.80,193.45L232.80,199.31L234.05,209.04L240.30,264.32L246.55,319.13L249.05,338.00L254.30,367.11L256.80,378.03L263.05,397.94L268.05,411.72L273.30,422.52L276.05,426.68L279.30,430.37L282.55,432.77L286.55,434.61L290.05,435.33L294.30,434.96L297.55,433.84L301.80,431.38L308.05,426.02L312.05,421.80L318.30,412.11L324.55,401.02L330.80,389.76L337.05,379.07L341.80,372.49L348.05,366.24L351.05,363.85L356.30,361.43L362.05,360.43L365.80,360.73L370.30,362.15L372.55,363.56L378.80,369.58L385.05,376.90L391.30,385.07L397.55,393.00L403.80,399.11L410.05,403.97L415.80,406.86L420.55,407.92L426.30,407.72L432.05,406.03L438.30,402.65L444.55,398.26L448.30,395.87L454.55,390.91L460.80,386.28L467.05,382.19L473.30,379.37L478.30,378.22L484.55,378.10L490.80,379.13L497.05,380.83L503.30,382.76L509.55,385.18L515.80,387.52L522.05,389.94L528.30,392.36L534.55,394.39L540.80,395.69L547.05,396.39L553.30,396.40L559.55,395.91L565.80,394.94L572.05,393.43L578.30,391.86L584.55,389.84L590.80,387.26L597.05,385.30L603.30,384.26L609.55,384.00L615.80,384.30L622.05,385.06L628.30,386.14L634.55,387.44L640.80,388.57L647.05,389.89L653.30,391.06L659.55,391.85L665.80,392.28L672.05,392.55L678.30,392.53L684.55,392.40L687.55,392.29" stroke="#ffa500" stroke-dasharray="9,9"/>
<path d="M80.80,499.00L87.05,499.00L93.30,499.00L99.55,499.00L105.80,498.77L112.05,498.76L118.30,498.76L124.55,498.76L130.55,498.76L136.80,498.76L143.05,498.76L149.30,498.76L155.55,498.76L161.80,498.76L168.05,498.76L174.30,498.76L180.55,498.76L186.80,498.76L193.05,498.76L199.30,498.71L201.30,498.47L202.30,498.12L202.80,497.73L203.30,497.10L205.30,492.78L206.30,490.07L207.05,487.34L207.55,484.80L208.30,479.48L210.80,453.34L211.80,440.65L213.30,415.02L219.55,279.19L220.80,251.77L221.55,239.15L222.80,223.66L225.05,202.88L225.80,197.40L226.30,194.54L226.80,192.37L227.30,190.75L227.80,189.63L228.05,189.24L228.30,188.97L228.55,188.79L228.80,188.72L229.05,188.73L229.30,188.85L229.55,189.07L229.80,189.43L230.30,190.53L230.80,192.11L231.80,196.52L232.80,202.33L234.05,211.93L240.30,266.10L246.55,319.63L249.05,338.02L254.30,366.64L256.80,377.44L263.05,397.36L267.80,410.59L273.05,421.46L275.55,425.36L279.05,429.44L282.30,431.94L286.55,433.96L290.05,434.73L294.30,434.40L298.05,433.08L302.05,430.77L308.30,425.46L312.30,421.25L318.55,411.59L324.80,400.72L331.05,389.69L337.30,379.24L342.30,372.51L348.55,366.31L351.30,364.16L356.30,361.81L361.80,360.77L365.30,360.95L370.05,362.35L372.05,363.49L377.80,368.71L384.05,375.81L390.30,383.55L396.30,391.40L402.55,397.61L408.80,402.69L414.80,405.98L419.80,407.33L425.30,407.40L430.05,406.40L436.30,403.62L442.55,399.56L448.80,395.49L455.05,390.69L461.30,386.21L467.55,382.30L473.80,379.63L480.05,378.48L486.30,378.59L492.55,379.77L498.80,381.45L505.05,383.35L511.30,385.80L517.55,388.03L523.80,390.44L530.05,392.79L536.30,394.59L542.55,395.68L548.80,396.21L555.05,396.08L561.30,395.51L567.55,394.44L573.80,392.96L580.05,391.42L586.30,389.21L592.55,386.79L598.80,385.16L605.05,384.30L611.30,384.22L617.55,384.60L623.80,385.42L630.05,386.53L636.30,387.74L642.55,388.91L648.80,390.17L655.05,391.19L661.30,391.85L667.55,392.25L673.80,392.44L680.05,392.38L686.30,392.22L687.55,392.18" stroke="#808080" stroke-dasharray="9,9"/>
<path d="M80.80,499.00L87.05,499.00L93.30,499.00L99.55,499.00L105.80,498.79L112.05,498.78L118.30,498.78L124.55,498.78L130.55,498.78L136.80,498.78L143.05,498.78L149.30,498.78L155.55,498.78L161.80,498.78L168.05,498.78L174.30,498.78L180.55,498.78L186.80,498.78L193.05,498.78L199.30,498.73L201.30,498.48L202.05,498.23L202.55,497.93L203.05,497.41L203.55,496.60L205.80,491.21L206.55,488.86L207.05,486.90L207.55,484.30L208.30,478.85L211.05,449.16L212.05,435.62L218.30,307.49L220.55,256.88L221.30,243.59L222.30,230.30L224.55,208.92L225.55,201.26L226.30,196.96L226.80,194.90L227.30,193.37L227.80,192.33L228.05,191.97L228.30,191.72L228.55,191.58L228.80,191.52L229.05,191.56L229.30,191.69L229.55,191.94L229.80,192.31L230.30,193.43L230.80,195.04L231.80,199.46L232.80,205.24L234.05,214.71L240.30,267.81L246.55,320.12L249.05,338.03L254.55,367.36L257.05,377.80L263.30,397.56L267.55,409.48L272.80,420.42L275.30,424.39L279.05,428.77L282.05,431.13L286.55,433.34L290.05,434.16L294.05,433.91L297.80,432.71L301.80,430.52L308.05,425.38L312.05,421.32L318.30,411.92L324.55,401.29L330.80,390.50L337.05,380.17L342.30,373.08L348.55,366.81L351.30,364.61L356.30,362.18L361.80,361.08L365.30,361.26L370.05,362.65L372.05,363.78L378.30,369.46L384.55,376.44L390.80,384.16L396.55,391.47L402.80,397.50L409.05,402.43L415.30,405.72L420.55,406.94L426.30,406.83L432.55,405.10L438.80,401.88L445.05,397.86L451.30,393.60L457.55,389.08L463.80,384.83L470.05,381.46L476.30,379.35L482.55,378.73L488.80,379.19L495.05,380.55L501.30,382.25L507.55,384.29L513.80,386.59L520.05,388.83L526.30,391.18L532.55,393.36L538.80,394.87L545.05,395.75L551.30,396.00L557.55,395.70L563.80,395.00L570.05,393.76L576.30,392.36L582.55,390.71L588.80,388.32L595.05,386.20L601.30,384.95L607.55,384.37L613.80,384.46L620.05,384.98L626.30,385.89L632.55,387.06L638.80,388.14L645.05,389.36L651.30,390.53L657.55,391.39L663.80,391.89L670.05,392.23L676.30,392.30L682.55,392.22L687.55,392.08" stroke="#008000" stroke-dasharray="9,9"/>
<path d="M80.80,499.00L87.05,499.00L93.30,499.00L99.55,499.00L105.80,498.81L112.05,498.80L118.30,498.80L124.55,498.80L130.55,498.80L136.80,498.80L143.05,498.80L149.30,498.80L155.55,498.80L161.80,498.80L168.05,498.80L174.30,498.80L180.55,498.80L186.80,498.80L193.05,498.80L199.30,498.75L201.30,498.49L202.05,498.23L202.55,497.92L203.05,497.36L203.55,496.53L205.80,490.91L206.55,488.50L207.05,486.48L207.55,483.81L208.30,478.26L211.05,448.00L212.05,434.33L218.30,306.32L220.55,257.06L221.30,244.16L222.30,231.31L224.55,210.67L225.55,203.35L226.30,199.27L226.80,197.32L227.30,195.89L227.80,194.91L228.05,194.59L228.30,194.37L228.55,194.24L228.80,194.21L229.05,194.27L229.30,194.42L229.55,194.68L229.80,195.06L230.30,196.22L230.80,197.85L231.80,202.28L232.80,208.02L239.05,258.81L245.30,310.93L248.55,334.89L254.05,364.58L256.80,376.34L263.05,396.27L267.30,408.39L272.30,418.96L274.80,423.09L278.80,427.89L281.80,430.34L286.55,432.74L290.05,433.61L294.05,433.39L298.30,432.01L302.05,429.95L308.30,424.86L312.30,420.80L318.55,411.42L324.80,400.99L331.05,390.43L337.30,380.30L342.80,373.07L349.05,366.83L351.80,364.73L356.55,362.44L362.05,361.37L365.55,361.59L370.30,363.05L372.55,364.42L378.80,370.20L385.05,377.03L391.30,384.76L397.05,391.80L403.30,397.60L409.55,402.34L415.55,405.36L421.05,406.53L427.30,406.26L433.55,404.38L439.80,401.09L446.05,397.28L452.30,392.95L458.55,388.60L464.80,384.53L471.05,381.41L477.05,379.58L483.30,379.04L489.55,379.54L495.80,380.85L502.05,382.50L508.30,384.56L514.55,386.75L520.80,388.96L527.05,391.27L533.30,393.35L539.55,394.76L545.80,395.59L552.05,395.77L558.30,395.46L564.55,394.74L570.80,393.52L577.05,392.20L583.30,390.51L589.55,388.17L595.80,386.19L602.05,385.03L608.30,384.53L614.55,384.65L620.80,385.16L627.05,386.06L633.30,387.21L639.55,388.26L645.80,389.44L652.05,390.55L658.30,391.35L664.55,391.81L670.80,392.13L677.05,392.17L683.30,392.09L687.55,391.98" stroke="#a52a2a" stroke-dasharray="9,9"/>
<path d="M80.80,499.00L87.05,499.00L93.30,499.00L99.55,499.00L105.80,498.83L112.05,498.82L118.30,498.82L124.55,498.82L130.55,498.82L136.80,498.82L143.05,498.82L149.30,498.82L155.55,498.82L161.80,498.82L168.05,498.82L174.30,498.82L180.55,498.82L186.80,498.82L193.05,498.82L199.30,498.77L201.30,498.50L202.05,498.23L202.55,497.90L203.05,497.33L203.55,496.45L205.80,490.64L206.55,488.15L207.05,486.07L207.55,483.35L208.30,477.69L211.30,443.73L212.30,428.99L218.55,299.79L220.55,257.22L221.30,244.69L222.30,232.26L224.30,214.29L225.55,205.36L226.30,201.48L226.80,199.64L227.30,198.30L227.80,197.39L228.05,197.09L228.30,196.90L228.55,196.80L228.80,196.79L229.05,196.86L229.30,197.03L229.55,197.30L229.80,197.70L230.30,198.88L230.80,200.53L231.80,204.98L233.05,212.34L239.30,262.67L245.55,313.52L248.80,336.53L254.30,365.34L257.05,376.74L263.30,396.52L267.30,407.93L272.05,417.99L274.80,422.52L278.80,427.28L281.80,429.74L286.80,432.26L290.05,433.08L293.80,432.94L298.05,431.67L301.80,429.74L308.05,424.79L312.05,420.89L318.30,411.74L324.55,401.53L330.80,391.19L337.05,381.18L342.80,373.59L349.05,367.28L351.80,365.14L356.55,362.77L361.80,361.67L365.05,361.79L370.05,363.21L372.05,364.32L378.30,369.87L384.55,376.55L390.80,383.98L395.80,390.30L402.05,396.21L408.30,401.13L414.55,404.54L420.05,405.98L425.80,406.07L432.05,404.62L438.30,401.76L444.55,398.05L450.80,394.09L457.05,389.80L463.30,385.73L469.55,382.41L475.80,380.22L482.05,379.41L488.30,379.59L494.55,380.71L500.80,382.22L507.05,384.07L513.30,386.25L519.55,388.36L525.80,390.63L532.05,392.79L538.30,394.31L544.55,395.24L550.80,395.57L557.05,395.36L563.30,394.78L569.55,393.71L575.80,392.46L582.05,390.95L588.30,388.76L594.55,386.70L600.80,385.41L607.05,384.74L613.30,384.74L619.55,385.12L625.80,385.92L632.05,386.98L638.30,388.03L644.55,389.16L650.80,390.27L657.05,391.10L663.30,391.61L669.55,391.96L675.80,392.07L682.05,392.01L687.55,391.88" stroke="#000000" stroke-dasharray="3,3"/>
<path d="M80.80,499.00L87.05,499.00L93.30,499.00L99.55,499.00L105.80,498.84L112.05,498.84L118.30,498.84L124.55,498.84L130.55,498.84L136.80,498.84L143.05,498.84L149.30,498.84L155.55,498.84L161.80,498.84L168.05,498.84L174.30,498.84L180.55,498.84L186.80,498.84L193.05,498.84L199.30,498.79L201.30,498.51L202.05,498.23L202.55,497.89L203.05,497.29L203.55,496.38L205.80,490.37L206.55,487.81L207.05,485.69L207.55,482.91L208.30,477.14L211.30,442.64L212.30,427.76L218.55,298.85L220.55,257.38L221.30,245.21L222.30,233.18L224.30,215.81L225.55,207.27L226.30,203.60L226.80,201.86L227.30,200.60L227.80,199.76L228.05,199.49L228.30,199.32L228.55,199.24L228.80,199.25L229.05,199.34L229.30,199.52L229.55,199.81L230.05,200.77L230.55,202.20L231.55,206.35L232.80,213.24L239.05,262.31L245.30,312.26L248.80,336.58L254.55,366.07L257.55,378.01L263.80,397.57L267.55,408.11L272.30,417.94L275.05,422.31L279.05,426.94L282.05,429.33L287.05,431.81L290.30,432.61L294.30,432.38L300.05,430.36L306.30,425.94L311.30,421.50L314.80,417.09L321.05,407.31L327.30,397.20L333.55,387.11L339.80,377.73L346.05,370.67L350.80,366.22L355.80,363.39L361.30,362.00L364.55,361.98L370.05,363.48L372.05,364.57L378.30,370.05L384.55,376.60L389.80,382.55L395.30,389.61L401.55,395.49L407.80,400.42L414.05,403.92L419.55,405.49L425.30,405.73L431.55,404.46L437.80,401.82L444.05,398.28L450.30,394.50L456.55,390.30L462.80,386.31L469.05,382.97L475.30,380.70L481.55,379.75L487.80,379.77L494.05,380.74L500.30,382.15L506.55,383.88L512.80,386.01L519.05,388.05L525.30,390.29L531.55,392.45L537.80,393.99L544.05,394.97L550.30,395.36L556.55,395.22L562.80,394.70L569.05,393.72L575.30,392.56L581.55,391.14L587.80,389.05L594.05,387.00L600.30,385.66L606.55,384.93L612.80,384.86L619.05,385.17L625.30,385.90L631.55,386.89L637.80,387.94L644.05,389.02L650.30,390.10L656.55,390.94L662.80,391.47L669.05,391.83L675.30,391.96L681.55,391.91L687.55,391.79" stroke="#0000ff" stroke-dasharray="3,3"/>
<path d="M80.80,499.00L87.05,499.00L93.30,499.00L99.55,499.00L105.80,498.86L112.05,498.86L118.30,498.86L124.55,498.86L130.55,498.86L136.80,498.86L143.05,498.86L149.30,498.86L155.55,498.86L161.80,498.86L168.05,498.86L174.30,498.86L180.55,498.86L186.80,498.86L193.05,498.86L199.30,498.80L201.30,498.51L202.05,498.23L202.55,497.87L203.05,497.25L203.55,496.32L205.80,490.12L206.80,486.47L207.30,484.00L207.80,480.76L208.55,474.21L211.30,441.60L212.30,426.58L218.55,297.94L220.55,257.53L221.30,245.70L222.30,234.05L224.30,217.26L225.30,210.53L226.05,206.64L226.55,204.74L227.05,203.34L227.55,202.35L227.80,202.01L228.05,201.77L228.30,201.62L228.55,201.57L228.80,201.60L229.05,201.71L229.30,201.90L229.55,202.21L230.05,203.19L230.55,204.65L231.55,208.81L232.80,215.67L239.05,263.94L245.30,312.88L248.80,336.62L254.55,365.67L257.80,378.39L264.05,397.88L267.55,407.69L272.30,417.46L275.05,421.78L279.05,426.39L282.05,428.79L287.30,431.38L290.30,432.13L294.30,431.93L300.05,429.98L306.30,425.65L311.30,421.29L314.55,417.30L320.80,407.70L327.05,397.79L333.30,387.89L339.55,378.54L345.80,371.38L350.55,366.80L355.55,363.81L361.05,362.30L364.30,362.21L369.80,363.63L371.80,364.65L378.05,369.98L384.30,376.41L389.30,381.84L395.05,389.19L401.30,395.02L407.55,399.90L413.80,403.42L419.30,405.04L425.30,405.36L431.55,404.15L437.80,401.62L444.05,398.23L450.30,394.54L456.55,390.46L462.80,386.56L469.05,383.29L475.30,381.04L481.55,380.05L487.80,379.99L494.05,380.87L500.30,382.20L506.55,383.88L512.80,385.94L519.05,387.92L525.30,390.13L531.55,392.26L537.80,393.79L544.05,394.77L550.30,395.17L556.55,395.05L562.80,394.57L569.05,393.64L575.30,392.55L581.55,391.17L587.80,389.16L594.05,387.16L600.30,385.84L606.55,385.09L612.80,385.00L619.05,385.27L625.30,385.95L631.55,386.91L637.80,387.93L644.05,388.98L650.30,390.02L656.55,390.84L662.80,391.36L669.05,391.72L675.30,391.85L681.55,391.81L687.55,391.70" stroke="#ff0000" stroke-dasharray="3,3"/>
<path d="M80.80,499.00L87.05,499.00L93.30,499.00L99.55,499.00L105.80,498.88L112.05,498.87L118.30,498.87L124.55,498.87L130.55,498.87L136.80,498.87L143.05,498.87L149.30,498.87L155.55,498.87L161.80,498.87L168.05,498.87L174.30,498.87L180.55,498.87L186.80,498.87L193.05,498.87L199.30,498.82L201.30,498.52L202.05,498.23L202.55,497.86L203.05,497.22L203.55,496.26L205.80,489.88L206.80,486.14L207.30,483.63L207.80,480.33L208.55,473.68L211.55,437.22L212.55,420.92L218.80,292.04L220.55,257.68L221.30,246.16L222.30,234.88L224.05,220.43L225.30,212.20L226.05,208.51L226.55,206.71L227.05,205.40L227.55,204.48L227.80,204.17L228.05,203.95L228.30,203.82L228.55,203.79L228.80,203.84L229.05,203.96L229.30,204.17L229.55,204.49L230.05,205.50L230.55,206.97L231.55,211.16L232.80,217.99L239.05,265.50L245.30,313.47L248.80,336.66L254.55,365.30L257.80,377.93L264.05,397.45L267.55,407.29L272.05,416.57L274.80,420.94L279.05,425.86L282.05,428.26L287.55,430.99L290.55,431.71L294.55,431.46L300.30,429.51L306.55,425.17L311.55,420.84L315.30,416.08L321.55,406.53L327.80,396.80L334.05,387.11L340.30,378.01L346.55,371.03L350.80,366.97L355.80,364.00L361.30,362.52L364.30,362.46L369.80,363.87L371.80,364.88L378.05,370.16L384.30,376.46L389.30,381.79L395.05,389.05L401.30,394.77L407.55,399.58L413.80,403.05L419.55,404.70L425.55,404.99L431.80,403.78L438.05,401.30L444.30,398.04L450.55,394.41L456.80,390.46L463.05,386.65L469.30,383.49L475.55,381.30L481.80,380.31L488.05,380.21L494.30,381.04L500.55,382.31L506.80,383.95L513.05,385.94L519.30,387.89L525.55,390.06L531.80,392.15L538.05,393.64L544.30,394.61L550.55,394.99L556.80,394.87L563.05,394.41L569.30,393.52L575.55,392.50L581.80,391.14L588.05,389.17L594.30,387.24L600.55,385.96L606.80,385.23L613.05,385.13L619.30,385.37L625.55,386.03L631.80,386.96L638.05,387.95L644.30,388.98L650.55,389.99L656.80,390.77L663.05,391.27L669.30,391.62L675.55,391.75L681.80,391.71L687.55,391.62" stroke="#00ffff" stroke-dasharray="3,3"/>
<path d="M80.80,499.00L87.05,499.00L93.30,499.00L99.55,499.00L105.80,498.89L112.05,498.89L118.30,498.89L124.55,498.89L130.55,498.89L136.80,498.89L143.05,498.89L149.30,498.89L155.55,498.89L161.80,498.89L168.05,498.89L174.30,498.89L180.55,498.89L186.80,498.89L193.05,498.89L199.30,498.83L201.30,498.53L202.05,498.23L202.55,497.85L203.05,497.19L203.55,496.20L205.80,489.65L206.80,485.83L207.30,483.27L207.80,479.92L208.55,473.17L211.55,436.26L212.55,419.81L218.80,291.33L220.55,257.81L221.30,246.61L222.30,235.68L224.05,221.68L225.30,213.80L226.05,210.29L226.55,208.59L227.05,207.35L227.55,206.50L227.80,206.21L228.05,206.02L228.30,205.91L228.55,205.90L228.80,205.97L229.05,206.10L229.30,206.33L229.55,206.66L230.05,207.69L230.55,209.19L231.80,214.61L233.05,221.79L239.30,268.89L245.55,315.78L249.05,338.10L254.80,366.01L258.80,380.79L265.05,400.09L268.30,408.68L272.80,417.43L276.55,422.65L280.05,426.26L285.55,429.68L289.30,431.05L291.80,431.34L296.05,430.71L300.80,428.93L307.05,424.53L311.55,420.65L315.30,415.95L321.55,406.55L327.80,396.99L334.05,387.47L340.30,378.44L346.55,371.43L350.80,367.32L355.80,364.28L361.05,362.80L364.05,362.67L369.80,364.10L371.80,365.10L378.05,370.33L384.30,376.51L389.05,381.43L395.05,388.92L401.30,394.53L407.55,399.26L413.80,402.70L419.80,404.38L425.80,404.64L432.05,403.44L438.30,401.01L444.55,397.87L450.80,394.30L457.05,390.45L463.30,386.74L469.55,383.67L475.80,381.54L482.05,380.56L488.30,380.42L494.55,381.20L500.80,382.41L507.05,384.02L513.30,385.95L519.55,387.86L525.80,390.00L532.05,392.05L538.30,393.49L544.55,394.46L550.80,394.81L557.05,394.71L563.30,394.27L569.55,393.41L575.80,392.45L582.05,391.11L588.30,389.18L594.55,387.32L600.80,386.08L607.05,385.35L613.30,385.25L619.55,385.47L625.80,386.11L632.05,387.01L638.30,387.98L644.55,388.98L650.80,389.95L657.05,390.70L663.30,391.19L669.55,391.53L675.80,391.65L682.05,391.62L687.55,391.54" stroke="#ff00ff" stroke-dasharray="3,3"/>
<path d="M80.80,499.00L87.05,499.00L93.30,499.00L99.55,499.00L105.80,498.91L112.05,498.91L118.30,498.91L124.55,498.91L130.55,498.91L136.80,498.91L143.05,498.91L149.30,498.91L155.55,498.91L161.80,498.91L168.05,498.91L174.30,498.91L180.55,498.91L186.80,498.91L193.05,498.91L199.30,498.85L201.30,498.54L202.05,498.23L202.55,497.84L203.05,497.16L203.55,496.14L205.80,489.43L206.80,485.53L207.30,482.93L207.80,479.53L208.55,472.69L211.55,435.34L212.55,418.75L218.80,290.67L220.55,257.94L221.30,247.03L222.30,236.43L224.05,222.87L225.30,215.31L226.05,211.98L226.55,210.37L227.05,209.21L227.55,208.42L227.80,208.16L228.05,207.98L228.30,207.90L228.55,207.90L228.80,207.99L229.05,208.14L229.30,208.38L229.55,208.72L230.05,209.77L230.55,211.29L231.80,216.73L233.05,223.87L239.30,270.25L245.55,316.28L249.05,338.11L255.05,366.71L261.30,388.15L266.80,404.66L270.05,412.04L273.80,418.60L278.55,424.38L281.80,427.13L287.55,430.09L290.55,430.87L294.55,430.67L300.30,428.85L306.55,424.66L311.55,420.48L315.30,415.83L321.55,406.56L327.80,397.17L334.05,387.81L340.30,378.85L346.55,371.82L350.80,367.65L355.80,364.55L361.05,363.03L364.05,362.89L369.80,364.31L371.80,365.31L378.05,370.48L384.30,376.56L389.05,381.39L395.05,388.80L401.30,394.30L407.55,398.97L413.80,402.36L420.05,404.07L426.05,404.30L432.30,403.11L438.55,400.73L444.80,397.71L451.05,394.19L457.30,390.45L463.55,386.83L469.80,383.85L476.05,381.76L482.30,380.79L488.55,380.61L494.80,381.34L501.05,382.51L507.30,384.09L513.55,385.95L519.80,387.83L526.05,389.94L532.30,391.95L538.55,393.36L544.80,394.31L551.05,394.65L557.30,394.55L563.55,394.13L569.80,393.31L576.05,392.40L582.30,391.08L588.55,389.20L594.80,387.39L601.05,386.19L607.30,385.47L613.55,385.37L619.80,385.57L626.05,386.18L632.30,387.06L638.55,388.01L644.80,388.98L651.05,389.92L657.30,390.64L663.55,391.11L669.80,391.45L676.05,391.56L682.30,391.53L687.55,391.46" stroke="#e9c420" stroke-dasharray="3,3"/>
<path d="M80.80,499.00L87.05,499.00L93.30,499.00L99.55,499.00L105.80,498.92L112.05,498.92L118.30,498.92L124.55,498.92L130.55,498.92L136.80,498.92L143.05,498.92L149.30,498.92L155.55,498.92L161.80,498.92L168.05,498.92L174.30,498.92L180.55,498.92L186.80,498.92L193.05,498.92L199.30,498.86L201.05,498.61L201.80,498.36L202.30,498.06L202.80,497.52L203.30,496.65L205.55,490.07L206.55,486.36L207.05,484.02L207.55,481.00L208.30,474.78L211.55,434.47L212.55,417.75L218.80,290.04L220.55,258.07L221.30,247.43L222.30,237.14L224.05,224.00L225.30,216.74L226.05,213.58L226.55,212.06L227.05,210.97L227.55,210.23L227.80,210.00L228.05,209.85L228.30,209.78L228.55,209.80L228.80,209.90L229.05,210.07L229.30,210.32L229.55,210.67L230.05,211.74L230.55,213.28L231.80,218.73L233.05,225.84L239.30,271.55L245.55,316.75L249.30,339.46L255.30,367.39L261.55,388.52L266.80,404.32L270.05,411.68L273.80,418.18L278.55,423.93L281.80,426.69L287.55,429.67L290.55,430.48L294.55,430.30L300.30,428.55L306.55,424.43L311.55,420.31L315.05,416.07L321.30,406.94L327.55,397.71L333.80,388.50L340.05,379.56L346.30,372.45L350.80,367.97L355.80,364.80L361.05,363.25L364.05,363.09L369.80,364.52L371.80,365.51L378.05,370.63L384.30,376.61L388.80,381.05L395.05,388.68L401.30,394.09L407.55,398.69L413.80,402.04L420.05,403.74L426.05,404.01L432.30,402.87L438.55,400.58L444.80,397.68L451.05,394.23L457.30,390.59L463.55,387.04L469.80,384.12L476.05,382.04L482.30,381.03L488.55,380.78L494.80,381.44L501.05,382.55L507.30,384.08L513.55,385.89L519.80,387.73L526.05,389.81L532.30,391.80L538.55,393.19L544.80,394.15L551.05,394.50L557.30,394.42L563.55,394.03L569.80,393.25L576.05,392.40L582.30,391.11L588.55,389.29L594.80,387.52L601.05,386.33L607.30,385.60L613.55,385.47L619.80,385.64L626.05,386.22L632.30,387.07L638.55,388.00L644.80,388.94L651.05,389.85L657.30,390.55L663.55,391.02L669.80,391.36L676.05,391.47L682.30,391.45L687.55,391.39" stroke="#ffa500" stroke-dasharray="3,3"/>
<path d="M80.80,499.00L87.05,499.00L93.30,499.00L99.55,499.00L105.80,498.94L112.05,498.93L118.30,498.93L124.55,498.93L130.55,498.93L136.80,498.93L143.05,498.93L149.30,498.93L155.55,498.93L161.80,498.93L168.05,498.93L174.30,498.93L180.55,498.93L186.80,498.93L193.05,498.93L199.30,498.87L201.05,498.62L201.80,498.36L202.30,498.05L202.80,497.50L203.30,496.62L205.55,489.89L206.55,486.12L207.05,483.73L207.55,480.68L208.30,474.38L211.55,433.65L212.55,416.80L218.80,289.44L220.55,258.18L221.30,247.80L222.05,240.01L223.80,226.68L225.05,219.31L225.80,215.98L226.30,214.31L226.80,213.10L227.30,212.25L227.80,211.74L228.05,211.60L228.30,211.56L228.55,211.60L229.05,211.89L229.30,212.15L229.55,212.51L230.05,213.61L230.55,215.16L231.80,220.63L233.05,227.70L239.30,272.78L245.55,317.19L249.55,340.74L255.30,367.06L261.55,388.15L266.80,404.00L270.05,411.34L273.80,417.79L278.55,423.50L281.80,426.26L287.80,429.37L290.55,430.11L294.30,430.00L300.30,428.26L306.55,424.21L311.55,420.16L315.05,415.96L321.30,406.94L327.55,397.87L333.80,388.81L340.05,379.93L346.30,372.80L350.80,368.26L355.80,365.04L361.05,363.46L363.80,363.28L369.80,364.71L371.80,365.70L378.05,370.78L384.30,376.65L388.80,381.01L394.80,388.31L401.05,393.69L407.30,398.26L413.55,401.63L419.80,403.39L425.80,403.74L432.05,402.70L438.30,400.54L444.55,397.76L450.80,394.42L457.05,390.86L463.30,387.37L469.55,384.47L475.80,382.36L482.05,381.28L488.30,380.94L494.55,381.50L500.80,382.54L507.05,384.00L513.30,385.76L519.55,387.55L525.80,389.60L532.05,391.59L538.30,392.98L544.55,393.96L550.80,394.34L557.05,394.30L563.30,393.95L569.55,393.22L575.80,392.44L582.05,391.20L588.30,389.45L594.55,387.70L600.80,386.50L607.05,385.74L613.30,385.57L619.55,385.69L625.80,386.23L632.05,387.03L638.30,387.95L644.55,388.87L650.80,389.76L657.05,390.45L663.30,390.92L669.55,391.27L675.80,391.39L682.05,391.37L687.55,391.33" stroke="#808080" stroke-dasharray="3,3"/>
<path d="M80.80,499.00L87.05,499.00L93.30,499.00L99.55,499.00L105.80,498.95L112.05,498.95L118.30,498.95L124.55,498.95L130.55,498.95L136.80,498.95L143.05,498.95L149.30,498.95L155.55,498.95L161.80,498.95L168.05,498.95L174.30,498.95L180.55,498.95L186.80,498.95L193.05,498.95L199.30,498.88L201.05,498.63L201.80,498.36L202.30,498.05L202.80,497.48L203.30,496.58L205.55,489.72L206.55,485.88L207.30,482.02L207.80,478.49L208.55,471.39L211.55,432.88L212.55,415.90L218.80,288.88L220.55,258.29L221.30,248.16L222.05,240.58L223.80,227.63L225.05,220.53L225.80,217.35L226.30,215.78L226.80,214.63L227.30,213.85L227.80,213.37L228.05,213.26L228.30,213.23L228.55,213.29L229.05,213.61L229.30,213.88L229.80,214.74L230.30,216.09L231.05,218.93L232.30,225.02L233.80,234.56L240.05,279.33L246.30,322.35L251.30,349.27L256.55,371.55L262.80,391.66L266.80,403.69L270.05,411.02L273.80,417.43L278.80,423.35L282.05,426.03L288.05,429.10L290.80,429.80L294.80,429.59L300.55,427.89L306.80,423.82L311.55,420.01L315.05,415.85L321.30,406.95L327.55,398.01L333.80,389.09L340.05,380.27L346.30,373.12L350.80,368.54L355.80,365.27L361.05,363.65L363.80,363.46L369.80,364.89L371.80,365.87L378.05,370.91L384.30,376.69L388.80,380.98L394.80,388.21L401.05,393.51L407.30,398.02L413.55,401.35L419.80,403.10L426.05,403.46L432.30,402.42L438.55,400.30L444.80,397.62L451.05,394.32L457.30,390.84L463.55,387.43L469.80,384.60L476.05,382.54L482.30,381.46L488.55,381.09L494.80,381.62L501.05,382.62L507.30,384.06L513.55,385.77L519.80,387.54L526.05,389.56L532.30,391.52L538.55,392.88L544.80,393.85L551.05,394.21L557.30,394.17L563.55,393.83L569.80,393.14L576.05,392.40L582.30,391.17L588.55,389.45L594.80,387.76L601.05,386.58L607.30,385.84L613.55,385.67L619.80,385.77L626.05,386.29L632.30,387.08L638.55,387.98L644.80,388.87L651.05,389.73L657.30,390.40L663.55,390.86L669.80,391.20L676.05,391.32L682.30,391.30L687.55,391.26" stroke="#008000" stroke-dasharray="3,3"/>
<path d="M80.80,499.00L87.05,499.00L93.30,499.00L99.55,499.00L105.80,498.96L112.05,498.96L118.30,498.96L124.55,498.96L130.55,498.96L136.80,498.96L143.05,498.96L149.30,498.96L155.55,498.96L161.80,498.96L168.05,498.96L174.30,498.96L180.55,498.96L186.80,498.96L193.05,498.96L199.30,498.89L201.05,498.63L201.80,498.36L202.30,498.04L202.80,497.47L203.30,496.55L205.55,489.56L206.55,485.67L207.30,481.75L207.80,478.19L208.55,471.00L211.55,432.16L212.55,415.07L218.05,301.76L220.55,258.40L221.30,248.49L222.05,241.11L223.80,228.53L225.05,221.68L225.80,218.65L226.30,217.16L226.80,216.08L227.30,215.34L227.55,215.09L227.80,214.91L228.05,214.82L228.30,214.81L228.55,214.87L229.05,215.22L229.30,215.50L229.80,216.39L230.30,217.75L231.05,220.60L232.55,228.09L238.80,271.50L245.05,314.84L249.30,339.43L255.55,367.44L261.80,388.24L266.55,402.74L269.55,409.73L273.55,416.71L278.55,422.72L281.80,425.49L288.05,428.76L290.80,429.48L294.80,429.28L300.55,427.64L306.80,423.63L311.55,419.87L314.80,416.09L321.05,407.30L327.30,398.50L333.55,389.71L339.80,380.92L346.05,373.71L350.80,368.81L355.55,365.61L360.80,363.88L363.55,363.63L369.55,364.97L371.55,365.89L377.80,370.81L384.05,376.52L388.55,380.67L394.80,388.12L401.05,393.33L407.30,397.78L413.55,401.09L419.80,402.83L426.05,403.21L432.30,402.22L438.55,400.17L444.80,397.59L451.05,394.36L457.30,390.96L463.55,387.61L469.80,384.83L476.05,382.77L482.30,381.66L488.55,381.23L494.80,381.71L501.05,382.65L507.30,384.05L513.55,385.71L519.80,387.45L526.05,389.45L532.30,391.39L538.55,392.74L544.80,393.71L551.05,394.08L557.30,394.06L563.55,393.74L569.80,393.09L576.05,392.40L582.30,391.20L588.55,389.53L594.80,387.87L601.05,386.70L607.30,385.94L613.55,385.76L619.80,385.83L626.05,386.32L632.30,387.08L638.55,387.97L644.80,388.84L651.05,389.68L657.30,390.33L663.55,390.78L669.80,391.12L676.05,391.24L682.30,391.23L687.55,391.20" stroke="#a52a2a" stroke-dasharray="3,3"/>
<path d="M80.80,499.00L87.05,499.00L93.30,499.00L99.55,499.00L105.80,498.97L112.05,498.97L118.30,498.97L124.55,498.97L130.55,498.97L136.80,498.97L143.05,498.97L149.30,498.97L155.55,498.97L161.80,498.97L168.05,498.97L174.30,498.97L180.55,498.97L186.80,498.97L193.05,498.97L199.30,498.90L201.05,498.64L201.80,498.36L202.30,498.04L202.80,497.45L203.30,496.52L205.55,489.41L206.55,485.46L207.30,481.50L207.80,477.90L208.55,470.64L211.55,431.48L212.55,414.28L217.55,310.05L220.55,258.49L221.30,248.81L222.05,241.62L223.80,229.36L225.05,222.75L225.80,219.86L226.30,218.45L226.80,217.43L227.30,216.75L227.55,216.51L227.80,216.36L228.05,216.28L228.30,216.28L228.55,216.36L229.05,216.73L229.30,217.02L229.80,217.92L230.30,219.30L231.30,223.29L232.55,229.65L238.80,272.57L245.05,315.26L249.80,341.89L255.80,368.12L262.05,388.70L266.55,402.48L269.55,409.45L273.55,416.39L278.55,422.36L281.80,425.14L288.05,428.44L290.80,429.18L294.80,429.00L300.55,427.41L306.80,423.45L311.55,419.74L314.80,416.00L321.05,407.30L327.30,398.62L333.55,389.96L339.80,381.22L346.05,373.99L350.80,369.05L355.55,365.81L360.80,364.05L363.55,363.79L369.55,365.13L371.55,366.04L377.80,370.93L384.05,376.56L388.55,380.64L394.80,388.03L401.05,393.16L407.30,397.56L413.55,400.84L419.80,402.57L426.05,402.98L432.30,402.03L438.55,400.06L444.80,397.56L451.05,394.39L457.30,391.07L463.55,387.78L469.80,385.03L476.05,382.99L482.30,381.85L488.55,381.37L494.80,381.78L501.05,382.68L507.30,384.04L513.55,385.66L519.80,387.37L526.05,389.35L532.30,391.26L538.55,392.60L544.80,393.59L551.05,393.95L557.30,393.95L563.55,393.66L569.80,393.04L576.05,392.40L582.30,391.23L588.55,389.60L594.80,387.97L601.05,386.81L607.30,386.04L613.55,385.84L619.80,385.89L626.05,386.35L632.30,387.09L638.55,387.96L644.80,388.81L651.05,389.62L657.30,390.27L663.55,390.71L669.80,391.05L676.05,391.18L682.30,391.17L687.55,391.15" stroke="#000000" stroke-dasharray="9,3,3,3"/>
<path d="M80.80,499.00L87.05,499.00L93.30,499.00L99.55,499.00L105.80,498.98L112.05,498.98L118.30,498.98L124.55,498.98L130.55,498.98L136.80,498.98L143.05,498.98L149.30,498.98L155.55,498.98L161.80,498.98L168.05,498.98L174.30,498.98L180.55,498.98L186.80,498.98L193.05,498.98L199.30,498.91L201.05,498.64L201.80,498.37L202.30,498.03L202.80,497.44L203.30,496.49L205.55,489.27L206.55,485.27L207.30,481.27L207.80,477.63L208.55,470.31L211.55,430.84L212.55,413.55L217.05,318.39L220.30,262.32L221.05,251.96L221.80,244.20L223.30,233.21L224.55,226.07L225.30,222.72L226.05,220.27L226.55,219.13L227.05,218.34L227.55,217.84L227.80,217.70L228.05,217.64L228.30,217.66L228.55,217.75L229.05,218.14L229.55,218.84L230.05,220.00L230.55,221.61L232.05,228.40L233.55,237.36L239.80,280.42L246.05,321.73L252.05,352.31L257.30,373.33L263.55,393.14L266.80,402.89L269.80,409.69L273.55,416.09L278.80,422.28L282.05,424.99L288.30,428.23L290.80,428.90L294.80,428.73L300.55,427.19L306.80,423.28L311.55,419.62L314.80,415.91L321.05,407.30L327.30,398.74L333.55,390.19L339.80,381.51L346.05,374.26L350.80,369.28L355.55,366.00L360.80,364.21L363.55,363.94L369.55,365.28L371.55,366.19L377.80,371.04L384.05,376.60L388.55,380.62L394.80,387.94L401.05,393.01L407.30,397.36L413.55,400.61L419.80,402.33L426.05,402.76L432.30,401.85L438.55,399.95L444.80,397.54L451.05,394.43L457.30,391.17L463.55,387.93L469.80,385.23L476.05,383.19L482.30,382.02L488.55,381.49L494.80,381.86L501.05,382.71L507.30,384.04L513.55,385.62L519.80,387.29L526.05,389.25L532.30,391.15L538.55,392.48L544.80,393.47L551.05,393.84L557.30,393.85L563.55,393.58L569.80,393.00L576.05,392.39L582.30,391.25L588.55,389.67L594.80,388.07L601.05,386.91L607.30,386.14L613.55,385.92L619.80,385.94L626.05,386.38L632.30,387.09L638.55,387.95L644.80,388.78L651.05,389.58L657.30,390.20L663.55,390.65L669.80,390.99L676.05,391.11L682.30,391.11L687.55,391.09" stroke="#0000ff" stroke-dasharray="9,3,3,3"/>
<path d="M80.80,499.00L87.05,499.00L93.30,499.00L99.55,499.00L105.80,498.99L112.05,498.99L118.30,498.99L124.55,498.99L130.55,498.99L136.80,498.99L143.05,498.99L149.30,498.99L155.55,498.99L161.80,498.99L168.05,498.99L174.30,498.99L180.55,498.99L186.80,498.99L193.05,498.99L199.30,498.92L201.05,498.65L201.80,498.37L202.30,498.03L202.80,497.42L203.30,496.46L205.55,489.15L206.55,485.09L207.30,481.05L207.80,477.38L208.55,470.00L211.55,430.25L212.30,417.74L216.80,322.18L220.30,262.34L221.05,252.17L221.80,244.58L223.30,233.86L224.55,226.92L225.30,223.70L226.05,221.36L226.55,220.27L227.05,219.54L227.55,219.08L227.80,218.95L228.05,218.91L228.30,218.94L228.55,219.04L229.05,219.45L229.55,220.17L230.05,221.34L230.55,222.96L232.05,229.76L233.55,238.68L239.80,281.26L246.05,322.01L252.30,353.28L257.55,373.93L263.80,393.68L266.80,402.66L269.80,409.44L273.55,415.82L278.80,421.97L282.05,424.68L288.30,427.95L290.80,428.63L294.80,428.49L300.55,426.98L306.80,423.12L311.55,419.51L314.55,416.16L320.80,407.63L327.05,399.19L333.30,390.75L339.55,382.09L345.80,374.80L350.80,369.49L355.55,366.17L360.55,364.42L363.30,364.08L369.30,365.34L371.30,366.18L377.55,370.92L383.80,376.43L388.30,380.33L394.55,387.62L400.80,392.69L407.05,397.02L413.30,400.28L417.30,401.66L423.55,402.55L429.80,402.13L436.05,400.71L442.30,398.50L448.55,395.78L454.80,392.53L461.05,389.33L467.30,386.40L473.55,384.11L479.80,382.59L486.05,381.77L492.30,381.74L498.55,382.35L504.80,383.45L511.05,384.98L517.30,386.51L523.55,388.38L529.80,390.35L536.05,391.89L542.30,392.98L548.55,393.65L554.80,393.79L561.05,393.63L567.30,393.19L573.55,392.64L579.80,391.79L586.05,390.41L592.30,388.73L598.55,387.40L604.80,386.48L611.05,386.06L617.30,385.95L623.55,386.20L629.80,386.77L636.05,387.61L642.30,388.44L648.55,389.22L654.80,389.92L661.05,390.44L667.30,390.80L673.55,391.04L679.80,391.05L686.05,391.05L687.55,391.04" stroke="#ff0000" stroke-dasharray="9,3,3,3"/>
<path d="M80.80,499.00L87.05,499.00L93.30,499.00L99.55,499.00L105.80,499.00L112.05,499.00L118.30,499.00L124.55,499.00L130.55,499.00L136.80,499.00L143.05,499.00L149.30,499.00L155.55,499.00L161.80,499.00L168.05,499.00L174.30,499.00L180.55,499.00L186.80,499.00L193.05,499.00L199.30,498.93L201.05,498.66L201.80,498.37L202.30,498.03L202.80,497.41L203.30,496.43L205.55,489.03L206.55,484.93L207.30,480.85L207.80,477.15L208.55,469.71L211.55,429.71L212.30,417.13L216.80,321.36L220.30,262.35L221.05,252.37L221.80,244.93L223.30,234.47L224.55,227.70L225.30,224.60L226.05,222.36L226.55,221.33L227.05,220.64L227.55,220.22L227.80,220.11L228.05,220.08L228.30,220.12L228.80,220.42L229.30,220.98L229.80,221.93L230.30,223.34L231.55,228.56L233.05,236.67L239.30,278.68L245.55,319.34L251.80,350.96L257.30,372.82L263.55,392.65L266.80,402.44L269.80,409.22L273.55,415.56L278.80,421.69L282.05,424.40L288.30,427.70L290.80,428.39L294.80,428.26L300.55,426.80L306.80,422.97L311.55,419.40L314.55,416.08L320.80,407.63L327.05,399.28L333.30,390.94L339.55,382.33L345.80,375.03L350.80,369.69L355.55,366.33L360.55,364.56L363.30,364.21L369.30,365.47L371.30,366.31L377.55,371.02L383.80,376.47L388.30,380.31L394.55,387.55L400.80,392.56L407.05,396.84L413.30,400.08L417.30,401.45L423.55,402.35L429.80,401.95L436.05,400.59L442.30,398.45L448.55,395.78L454.80,392.60L461.05,389.44L467.30,386.55L473.55,384.28L479.80,382.75L486.05,381.89L492.30,381.82L498.55,382.39L504.80,383.45L511.05,384.95L517.30,386.45L523.55,388.31L529.80,390.25L536.05,391.78L542.30,392.88L548.55,393.54L554.80,393.70L561.05,393.56L567.30,393.14L573.55,392.63L579.80,391.81L586.05,390.45L592.30,388.80L598.55,387.49L604.80,386.56L611.05,386.13L617.30,386.00L623.55,386.24L629.80,386.78L636.05,387.61L642.30,388.42L648.55,389.19L654.80,389.87L661.05,390.38L667.30,390.74L673.55,390.99L679.80,391.00L686.05,391.00L687.55,391.00" stroke="#00ffff" stroke-dasharray="9,3,3,3"/>
</g>
<g class="ticks">
<line x1="80.00" x2="80.00" y1="521" y2="526"/>
<line class="mn" x1="110.44" x2="110.44" y1="521" y2="524"/>
<line class="mn" x1="140.88" x2="140.88" y1="521" y2="524"/>
<line class="mn" x1="171.31" x2="171.31" y1="521" y2="524"/>
<line x1="201.75" x2="201.75" y1="521" y2="526"/>
<line class="mn" x1="232.19" x2="232.19" y1="521" y2="524"/>
<line class="mn" x1="262.62" x2="262.62" y1="521" y2="524"/>
<line class="mn" x1="293.06" x2="293.06" y1="521" y2="524"/>
<line x1="323.50" x2="323.50" y1="521" y2="526"/>
<line class="mn" x1="353.94" x2="353.94" y1="521" y2="524"/>
<line class="mn" x1="384.38" x2="384.38" y1="521" y2="524"/>
<line class="mn" x1="414.81" x2="414.81" y1="521" y2="524"/>
<line x1="445.25" x2="445.25" y1="521" y2="526"/>
<line class="mn" x1="475.69" x2="475.69" y1="521" y2="524"/>
<line class="mn" x1="506.12" x2="506.12" y1="521" y2="524"/>
<line class="mn" x1="536.56" x2="536.56" y1="521" y2="524"/>
<line x1="567.00" x2="567.00" y1="521" y2="526"/>
<line class="mn" x1="597.44" x2="597.44" y1="521" y2="524"/>
<line class="mn" x1="627.88" x2="627.88" y1="521" y2="524"/>
<line class="mn" x1="658.31" x2="658.31" y1="521" y2="524"/>
<line class="mn" x1="76" x2="79" y1="509.94" y2="509.94"/>
<line x1="74" x2="79" y1="499.00" y2="499.00"/>
<line class="mn" x1="76" x2="79" y1="488.06" y2="488.06"/>
<line class="mn" x1="76" x2="79" y1="477.11" y2="477.11"/>
<line class="mn" x1="76" x2="79" y1="466.17" y2="466.17"/>
<line class="mn" x1="76" x2="79" y1="455.23" y2="455.23"/>
<line x1="74" x2="79" y1="444.28" y2="444.28"/>
<line class="mn" x1="76" x2="79" y1="433.34" y2="433.34"/>
<line class="mn" x1="76" x2="79" y1="422.40" y2="422.40"/>
<line class="mn" x1="76" x2="79" y1="411.46" y2="411.46"/>
<line class="mn" x1="76" x2="79" y1="400.51" y2="400.51"/>
<line x1="74" x2="79" y1="389.57" y2="389.57"/>
<line class="mn" x1="76" x2="79" y1="378.63" y2="378.63"/>
<line class="mn" x1="76" x2="79" y1="367.68" y2="367.68"/>
<line class="mn" x1="76" x2="79" y1="356.74" y2="356.74"/>
<line class="mn" x1="76" x2="79" y1="345.80" y2="345.80"/>
<line x1="74" x2="79" y1="334.86" y2="334.86"/>
<line class="mn" x1="76" x2="79" y1="323.91" y2="323.91"/>
<line class="mn" x1="76" x2="79" y1="312.97" y2="312.97"/>
<line class="mn" x1="76" x2="79" y1="302.03" y2="302.03"/>
<line class="mn" x1="76" x2="79" y1="291.08" y2="291.08"/>
<line x1="74" x2="79" y1="280.14" y2="280.14"/>
<line class="mn" x1="76" x2="79" y1="269.20" y2="269.20"/>
<line class="mn" x1="76" x2="79" y1="258.25" y2="258.25"/>
<line class="mn" x1="76" x2="79" y1="247.31" y2="247.31"/>
<line class="mn" x1="76" x2="79" y1="236.37" y2="236.37"/>
<line x1="74" x2="79" y1="225.42" y2="225.42"/>
<line class="mn" x1="76" x2="79" y1="214.48" y2="214.48"/>
<line class="mn" x1="76" x2="79" y1="203.54" y2="203.54"/>
<line class="mn" x1="76" x2="79" y1="192.60" y2="192.60"/>
<line class="mn" x1="76" x2="79" y1="181.65" y2="181.65"/>
<line x1="74" x2="79" y1="170.71" y2="170.71"/>
<line class="mn" x1="76" x2="79" y1="159.77" y2="159.77"/>
<line class="mn" x1="76" x2="79" y1="148.82" y2="148.82"/>
<line class="mn" x1="76" x2="79" y1="137.88" y2="137.88"/>
<line class="mn" x1="76" x2="79" y1="126.94" y2="126.94"/>
<line x1="74" x2="79" y1="116.00" y2="116.00"/>
<line class="mn" x1="76" x2="79" y1="105.05" y2="105.05"/>
</g>
<path d="M79.5,100V521" stroke="#000" stroke-width="1" fill="none"/>
<path d="M79,520.5H688" stroke="#000" stroke-width="1" fill="none"/>
<g class="labels">
<text x="80.00" y="539.6" text-anchor="middle">0</text>
<text x="201.75" y="539.6" text-anchor="middle">2</text>
<text x="323.50" y="539.6" text-anchor="middle">4</text>
<text x="445.25" y="539.6" text-anchor="middle">6</text>
<text x="567.00" y="539.6" text-anchor="middle">8</text>
<text x="72" y="503.20" text-anchor="end">0</text>
<text x="72" y="448.48" text-anchor="end">0.5</text>
<text x="72" y="393.77" text-anchor="end">1</text>
<text x="72" y="339.06" text-anchor="end">1.5</text>
<text x="72" y="284.34" text-anchor="end">2</text>
<text x="72" y="229.62" text-anchor="end">2.5</text>
<text x="72" y="174.91" text-anchor="end">3</text>
<text x="72" y="120.20" text-anchor="end">3.5</text>
</g>
<g class="legend">
<path d="M705,114.5H735" stroke="#000000" stroke-width="2" fill="none"/><text x="740.5" y="118.7">1350.0</text>
<path d="M705,133.5H735" stroke="#0000ff" stroke-width="2" fill="none"/><text x="740.5" y="137.7">1400.0</text>
<path d="M705,152.5H735" stroke="#ff0000" stroke-width="2" fill="none"/><text x="740.5" y="156.7">1450.0</text>
<path d="M705,171.5H735" stroke="#00ffff" stroke-width="2" fill="none"/><text x="740.5" y="175.7">1500.0</text>
<path d="M705,190.5H735" stroke="#ff00ff" stroke-width="2" fill="none"/><text x="740.5" y="194.7">1550.0</text>
<path d="M705,209.5H735" stroke="#e9c420" stroke-width="2" fill="none"/><text x="740.5" y="213.7">1600.0</text>
<path d="M705,228.5H735" stroke="#ffa500" stroke-width="2" fill="none"/><text x="740.5" y="232.7">1650.0</text>
<path d="M705,247.5H735" stroke="#808080" stroke-width="2" fill="none"/><text x="740.5" y="251.7">1700.0</text>
<path d="M705,266.5H735" stroke="#008000" stroke-width="2" fill="none"/><text x="740.5" y="270.7">1750.0</text>
<path d="M705,285.5H735" stroke="#a52a2a" stroke-width="2" fill="none"/><text x="740.5" y="289.7">1800.0</text>
<path d="M705,304.5H735" stroke="#000000" stroke-width="2" fill="none" stroke-dasharray="9,9"/><text x="740.5" y="308.7">1850.0</text>
<path d="M705,323.5H735" stroke="#0000ff" stroke-width="2" fill="none" stroke-dasharray="9,9"/><text x="740.5" y="327.7">1900.0</text>
<path d="M705,342.5H735" stroke="#ff0000" stroke-width="2" fill="none" stroke-dasharray="9,9"/><text x="740.5" y="346.7">1950.0</text>
<path d="M705,361.5H735" stroke="#00ffff" stroke-width="2" fill="none" stroke-dasharray="9,9"/><text x="740.5" y="365.7">2000.0</text>
<path d="M705,380.5H735" stroke="#ff00ff" stroke-width="2" fill="none" stroke-dasharray="9,9"/><text x="740.5" y="384.7">2050.0</text>
<path d="M705,399.5H735" stroke="#e9c420" stroke-width="2" fill="none" stroke-dasharray="9,9"/><text x="740.5" y="403.7">2100.0</text>
<path d="M705,418.5H735" stroke="#ffa500" stroke-width="2" fill="none" stroke-dasharray="9,9"/><text x="740.5" y="422.7">2150.0</text>
<path d="M705,437.5H735" stroke="#808080" stroke-width="2" fill="none" stroke-dasharray="9,9"/><text x="740.5" y="441.7">2200.0</text>
<path d="M705,456.5H735" stroke="#008000" stroke-width="2" fill="none" stroke-dasharray="9,9"/><text x="740.5" y="460.7">2250.0</text>
<path d="M705,475.5H735" stroke="#a52a2a" stroke-width="2" fill="none" stroke-dasharray="9,9"/><text x="740.5" y="479.7">2300.0</text>
<path d="M705,494.5H735" stroke="#000000" stroke-width="2" fill="none" stroke-dasharray="3,3"/><text x="740.5" y="498.7">2350.0</text>
<path d="M705,513.5H735" stroke="#0000ff" stroke-width="2" fill="none" stroke-dasharray="3,3"/><text x="740.5" y="517.7">2400.0</text>
</g>
<text x="40" y="50" style="font-size:12px">Radial Distribution Function</text>
<text x="384" y="568" text-anchor="middle" style="font-size:14.4px">r (Angstrom)</text>
<text transform="translate(26.5,310) rotate(-90)" text-anchor="middle" style="font-size:14.4px">g(r)</text>
</svg>
</body>
</html>
